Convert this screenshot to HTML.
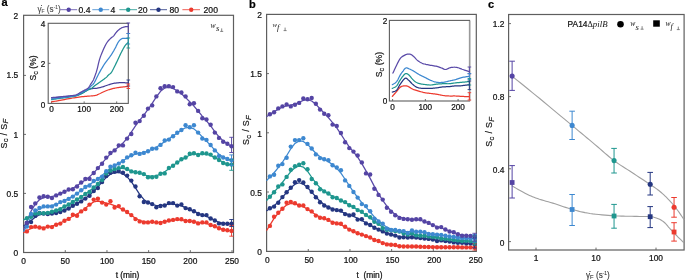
<!DOCTYPE html>
<html><head><meta charset="utf-8"><style>
html,body{margin:0;padding:0;background:#fff;width:685px;height:280px;overflow:hidden}
svg{display:block}
.w{will-change:transform;width:685px;height:280px}
</style></head><body><div class="w">
<svg width="685" height="280" viewBox="0 0 685 280" font-family='"Liberation Sans", sans-serif'>
<rect width="685" height="280" fill="#fff"/>
<text x="1.6" y="5.8" font-size="11" text-anchor="start" fill="#000" stroke="#000" stroke-width="0.22" font-weight="bold">a</text>
<text x="249.0" y="7.7" font-size="11" text-anchor="start" fill="#000" stroke="#000" stroke-width="0.22" font-weight="bold">b</text>
<text x="488.0" y="7.7" font-size="11" text-anchor="start" fill="#000" stroke="#000" stroke-width="0.22" font-weight="bold">c</text>
<rect x="23.6" y="15.3" width="209.9" height="237.2" fill="none" stroke="#5e5e5e" stroke-width="1.2"/>
<text x="18.2" y="256.0" font-size="8.4" text-anchor="end" fill="#111" stroke="#111" stroke-width="0.22" >0</text>
<path d="M23.6,193.4H26.0" stroke="#5e5e5e" stroke-width="0.9"/>
<text x="18.2" y="196.79999999999998" font-size="8.4" text-anchor="end" fill="#111" stroke="#111" stroke-width="0.22" >0.5</text>
<path d="M23.6,134.4H26.0" stroke="#5e5e5e" stroke-width="0.9"/>
<text x="18.2" y="137.6" font-size="8.4" text-anchor="end" fill="#111" stroke="#111" stroke-width="0.22" >1</text>
<path d="M23.6,75.4H26.0" stroke="#5e5e5e" stroke-width="0.9"/>
<text x="18.2" y="78.39999999999998" font-size="8.4" text-anchor="end" fill="#111" stroke="#111" stroke-width="0.22" >1.5</text>
<text x="18.2" y="19.19999999999998" font-size="8.4" text-anchor="end" fill="#111" stroke="#111" stroke-width="0.22" >2</text>
<text x="23.6" y="264.0" font-size="8.4" text-anchor="middle" fill="#111" stroke="#111" stroke-width="0.22" >0</text>
<path d="M65.28,252.5V250.1" stroke="#5e5e5e" stroke-width="0.9"/>
<text x="65.28" y="264.0" font-size="8.4" text-anchor="middle" fill="#111" stroke="#111" stroke-width="0.22" >50</text>
<path d="M106.96000000000001,252.5V250.1" stroke="#5e5e5e" stroke-width="0.9"/>
<text x="106.96000000000001" y="264.0" font-size="8.4" text-anchor="middle" fill="#111" stroke="#111" stroke-width="0.22" >100</text>
<path d="M148.64000000000001,252.5V250.1" stroke="#5e5e5e" stroke-width="0.9"/>
<text x="148.64000000000001" y="264.0" font-size="8.4" text-anchor="middle" fill="#111" stroke="#111" stroke-width="0.22" >150</text>
<path d="M190.32,252.5V250.1" stroke="#5e5e5e" stroke-width="0.9"/>
<text x="190.32" y="264.0" font-size="8.4" text-anchor="middle" fill="#111" stroke="#111" stroke-width="0.22" >200</text>
<path d="M232.0,252.5V250.1" stroke="#5e5e5e" stroke-width="0.9"/>
<text x="232.0" y="264.0" font-size="8.4" text-anchor="middle" fill="#111" stroke="#111" stroke-width="0.22" >250</text>
<text x="127.5" y="278.2" font-size="8.4" text-anchor="middle" fill="#111" stroke="#111" stroke-width="0.22" >t (min)</text>
<text transform="translate(6.6,133.6) rotate(-90)" font-size="8.8" text-anchor="middle" fill="#111" stroke="#111" stroke-width="0.2" letter-spacing="0.35">S<tspan font-size="7.6" dy="1.6">c</tspan><tspan dy="-1.6"> / S</tspan><tspan font-size="7.6" dy="1.6" font-style="italic">F</tspan></text>
<polyline points="23.80,232.56 26.90,230.82 31.08,228.47 35.25,227.51 39.43,227.44 43.60,227.43 47.78,227.01 51.96,226.16 56.13,224.82 60.31,223.01 64.48,220.82 68.66,218.44 72.84,216.22 77.01,214.11 81.19,211.54 85.36,208.29 89.54,204.71 93.72,201.87 97.89,201.02 102.07,201.90 106.24,203.04 110.42,204.10 114.60,205.61 118.77,207.43 122.95,209.62 127.12,212.31 131.30,215.34 135.48,218.28 139.65,220.51 143.83,221.72 148.00,222.13 152.18,222.22 156.36,222.32 160.53,222.21 164.71,221.63 168.88,220.77 173.06,220.03 177.24,219.68 181.41,219.91 185.59,220.53 189.76,221.24 193.94,221.94 198.12,222.49 202.29,222.84 206.47,223.50 210.64,224.80 214.82,226.43 219.00,228.00 223.17,229.30 227.35,230.24 231.52,230.94" fill="none" stroke="#ec3a2e" stroke-width="1.25" stroke-linejoin="round" stroke-linecap="round" opacity="1"/>
<polyline points="23.80,225.80 26.90,223.56 31.08,220.54 35.25,217.19 39.43,214.80 43.60,213.86 47.78,213.65 51.96,213.35 56.13,212.70 60.31,211.65 64.48,210.13 68.66,208.17 72.84,205.94 77.01,203.61 81.19,201.14 85.36,198.32 89.54,195.02 93.72,191.21 97.89,186.87 102.07,182.03 106.24,177.45 110.42,174.15 114.60,172.51 118.77,172.39 122.95,173.82 127.12,176.90 131.30,181.65 135.48,187.83 139.65,194.34 143.83,199.40 148.00,202.43 152.18,204.32 156.36,205.50 160.53,205.67 164.71,204.97 168.88,204.20 173.06,204.12 177.24,204.79 181.41,205.94 185.59,207.58 189.76,209.48 193.94,211.44 198.12,213.28 202.29,214.80 206.47,216.32 210.64,218.30 214.82,220.50 219.00,222.32 223.17,223.37 227.35,223.76 231.52,223.83" fill="none" stroke="#243681" stroke-width="1.25" stroke-linejoin="round" stroke-linecap="round" opacity="1"/>
<polyline points="23.80,219.76 26.90,218.32 31.08,216.38 35.25,214.68 39.43,213.62 43.60,213.06 47.78,212.49 51.96,211.60 56.13,210.33 60.31,208.67 64.48,206.62 68.66,204.34 72.84,201.95 77.01,199.45 81.19,196.85 85.36,194.12 89.54,191.09 93.72,187.58 97.89,183.62 102.07,179.26 106.24,174.96 110.42,171.61 114.60,169.53 118.77,168.48 122.95,168.40 127.12,169.35 131.30,170.77 135.48,172.05 139.65,173.23 143.83,174.65 148.00,175.99 152.18,176.46 156.36,175.75 160.53,174.11 164.71,171.74 168.88,168.75 173.06,165.59 177.24,162.58 181.41,159.75 185.59,157.19 189.76,155.21 193.94,154.25 198.12,154.01 202.29,153.94 206.47,154.27 210.64,155.50 214.82,157.57 219.00,160.00 223.17,162.23 227.35,163.85 231.52,164.81" fill="none" stroke="#1e968e" stroke-width="1.25" stroke-linejoin="round" stroke-linecap="round" opacity="1"/>
<polyline points="23.80,231.38 26.90,225.31 31.08,217.14 35.25,211.86 39.43,208.80 43.60,207.20 47.78,206.38 51.96,205.56 56.13,204.22 60.31,202.50 64.48,200.66 68.66,198.63 72.84,196.21 77.01,193.41 81.19,190.41 85.36,187.50 89.54,184.64 93.72,181.71 97.89,178.73 102.07,175.41 106.24,171.65 110.42,168.18 114.60,165.52 118.77,163.23 122.95,160.70 127.12,158.00 131.30,155.65 135.48,154.11 139.65,153.26 143.83,152.37 148.00,150.98 152.18,149.26 156.36,147.19 160.53,144.53 164.71,141.63 168.88,138.86 173.06,135.99 177.24,132.89 181.41,129.91 185.59,127.79 189.76,127.30 193.94,128.90 198.12,132.53 202.29,136.90 206.47,141.06 210.64,145.44 214.82,150.11 219.00,154.19 223.17,157.03 227.35,158.87 231.52,160.26" fill="none" stroke="#3d88d0" stroke-width="1.25" stroke-linejoin="round" stroke-linecap="round" opacity="1"/>
<polyline points="23.80,229.04 26.90,221.38 31.08,211.06 35.25,204.07 39.43,199.73 43.60,197.60 47.78,196.96 51.96,196.50 56.13,195.33 60.31,193.60 64.48,191.77 68.66,190.04 72.84,188.21 77.01,185.78 81.19,182.83 85.36,179.91 89.54,176.81 93.72,172.87 97.89,168.18 102.07,163.21 106.24,158.28 110.42,153.84 114.60,150.04 118.77,146.65 122.95,143.04 127.12,138.27 131.30,132.19 135.48,125.86 139.65,120.29 143.83,115.04 148.00,109.48 152.18,103.42 156.36,96.92 160.53,91.26 164.71,88.00 168.88,87.28 173.06,88.44 177.24,90.75 181.41,93.77 185.59,97.58 189.76,101.77 193.94,106.05 198.12,110.99 202.29,116.12 206.47,120.85 210.64,125.94 214.82,131.61 219.00,136.82 223.17,140.84 227.35,143.84 231.52,146.32" fill="none" stroke="#5a4aa8" stroke-width="1.25" stroke-linejoin="round" stroke-linecap="round" opacity="1"/>
<circle cx="26.90" cy="231.40" r="2.2" fill="#ec3a2e"/>
<circle cx="31.08" cy="227.10" r="2.2" fill="#ec3a2e"/>
<circle cx="35.25" cy="226.60" r="2.2" fill="#ec3a2e"/>
<circle cx="39.43" cy="227.50" r="2.2" fill="#ec3a2e"/>
<circle cx="43.60" cy="228.40" r="2.2" fill="#ec3a2e"/>
<circle cx="47.78" cy="226.60" r="2.2" fill="#ec3a2e"/>
<circle cx="51.96" cy="227.10" r="2.2" fill="#ec3a2e"/>
<circle cx="56.13" cy="224.80" r="2.2" fill="#ec3a2e"/>
<circle cx="60.31" cy="223.60" r="2.2" fill="#ec3a2e"/>
<circle cx="64.48" cy="220.70" r="2.2" fill="#ec3a2e"/>
<circle cx="68.66" cy="218.90" r="2.2" fill="#ec3a2e"/>
<circle cx="72.84" cy="214.70" r="2.2" fill="#ec3a2e"/>
<circle cx="77.01" cy="215.80" r="2.2" fill="#ec3a2e"/>
<circle cx="81.19" cy="211.40" r="2.2" fill="#ec3a2e"/>
<circle cx="85.36" cy="209.10" r="2.2" fill="#ec3a2e"/>
<circle cx="89.54" cy="204.60" r="2.2" fill="#ec3a2e"/>
<circle cx="93.72" cy="199.60" r="2.2" fill="#ec3a2e"/>
<circle cx="97.89" cy="198.70" r="2.2" fill="#ec3a2e"/>
<circle cx="102.07" cy="202.60" r="2.2" fill="#ec3a2e"/>
<circle cx="106.24" cy="204.60" r="2.2" fill="#ec3a2e"/>
<circle cx="110.42" cy="201.20" r="2.2" fill="#ec3a2e"/>
<circle cx="114.60" cy="207.50" r="2.2" fill="#ec3a2e"/>
<circle cx="118.77" cy="206.10" r="2.2" fill="#ec3a2e"/>
<circle cx="122.95" cy="209.50" r="2.2" fill="#ec3a2e"/>
<circle cx="127.12" cy="212.00" r="2.2" fill="#ec3a2e"/>
<circle cx="131.30" cy="215.10" r="2.2" fill="#ec3a2e"/>
<circle cx="135.48" cy="219.10" r="2.2" fill="#ec3a2e"/>
<circle cx="139.65" cy="221.40" r="2.2" fill="#ec3a2e"/>
<circle cx="143.83" cy="222.40" r="2.2" fill="#ec3a2e"/>
<circle cx="148.00" cy="222.40" r="2.2" fill="#ec3a2e"/>
<circle cx="152.18" cy="221.80" r="2.2" fill="#ec3a2e"/>
<circle cx="156.36" cy="222.40" r="2.2" fill="#ec3a2e"/>
<circle cx="160.53" cy="223.00" r="2.2" fill="#ec3a2e"/>
<circle cx="164.71" cy="221.80" r="2.2" fill="#ec3a2e"/>
<circle cx="168.88" cy="220.50" r="2.2" fill="#ec3a2e"/>
<circle cx="173.06" cy="219.90" r="2.2" fill="#ec3a2e"/>
<circle cx="177.24" cy="219.10" r="2.2" fill="#ec3a2e"/>
<circle cx="181.41" cy="219.30" r="2.2" fill="#ec3a2e"/>
<circle cx="185.59" cy="221.00" r="2.2" fill="#ec3a2e"/>
<circle cx="189.76" cy="221.00" r="2.2" fill="#ec3a2e"/>
<circle cx="193.94" cy="221.80" r="2.2" fill="#ec3a2e"/>
<circle cx="198.12" cy="223.40" r="2.2" fill="#ec3a2e"/>
<circle cx="202.29" cy="222.40" r="2.2" fill="#ec3a2e"/>
<circle cx="206.47" cy="222.40" r="2.2" fill="#ec3a2e"/>
<circle cx="210.64" cy="225.00" r="2.2" fill="#ec3a2e"/>
<circle cx="214.82" cy="226.30" r="2.2" fill="#ec3a2e"/>
<circle cx="219.00" cy="228.30" r="2.2" fill="#ec3a2e"/>
<circle cx="223.17" cy="229.70" r="2.2" fill="#ec3a2e"/>
<circle cx="227.35" cy="230.30" r="2.2" fill="#ec3a2e"/>
<circle cx="231.52" cy="230.90" r="2.2" fill="#ec3a2e"/>
<circle cx="26.90" cy="223.00" r="2.2" fill="#243681"/>
<circle cx="31.08" cy="222.10" r="2.2" fill="#243681"/>
<circle cx="35.25" cy="215.90" r="2.2" fill="#243681"/>
<circle cx="39.43" cy="212.90" r="2.2" fill="#243681"/>
<circle cx="43.60" cy="213.60" r="2.2" fill="#243681"/>
<circle cx="47.78" cy="214.10" r="2.2" fill="#243681"/>
<circle cx="51.96" cy="213.50" r="2.2" fill="#243681"/>
<circle cx="56.13" cy="213.00" r="2.2" fill="#243681"/>
<circle cx="60.31" cy="212.00" r="2.2" fill="#243681"/>
<circle cx="64.48" cy="210.50" r="2.2" fill="#243681"/>
<circle cx="68.66" cy="208.50" r="2.2" fill="#243681"/>
<circle cx="72.84" cy="205.70" r="2.2" fill="#243681"/>
<circle cx="77.01" cy="203.80" r="2.2" fill="#243681"/>
<circle cx="81.19" cy="201.40" r="2.2" fill="#243681"/>
<circle cx="85.36" cy="198.60" r="2.2" fill="#243681"/>
<circle cx="89.54" cy="195.70" r="2.2" fill="#243681"/>
<circle cx="93.72" cy="191.00" r="2.2" fill="#243681"/>
<circle cx="97.89" cy="188.00" r="2.2" fill="#243681"/>
<circle cx="102.07" cy="182.00" r="2.2" fill="#243681"/>
<circle cx="106.24" cy="176.00" r="2.2" fill="#243681"/>
<circle cx="110.42" cy="172.70" r="2.2" fill="#243681"/>
<circle cx="114.60" cy="171.80" r="2.2" fill="#243681"/>
<circle cx="118.77" cy="171.10" r="2.2" fill="#243681"/>
<circle cx="122.95" cy="172.70" r="2.2" fill="#243681"/>
<circle cx="127.12" cy="175.60" r="2.2" fill="#243681"/>
<circle cx="131.30" cy="180.60" r="2.2" fill="#243681"/>
<circle cx="135.48" cy="186.50" r="2.2" fill="#243681"/>
<circle cx="139.65" cy="196.30" r="2.2" fill="#243681"/>
<circle cx="143.83" cy="202.00" r="2.2" fill="#243681"/>
<circle cx="148.00" cy="202.50" r="2.2" fill="#243681"/>
<circle cx="152.18" cy="204.10" r="2.2" fill="#243681"/>
<circle cx="156.36" cy="207.20" r="2.2" fill="#243681"/>
<circle cx="160.53" cy="206.00" r="2.2" fill="#243681"/>
<circle cx="164.71" cy="205.50" r="2.2" fill="#243681"/>
<circle cx="168.88" cy="203.10" r="2.2" fill="#243681"/>
<circle cx="173.06" cy="203.10" r="2.2" fill="#243681"/>
<circle cx="177.24" cy="205.60" r="2.2" fill="#243681"/>
<circle cx="181.41" cy="204.40" r="2.2" fill="#243681"/>
<circle cx="185.59" cy="208.10" r="2.2" fill="#243681"/>
<circle cx="189.76" cy="209.30" r="2.2" fill="#243681"/>
<circle cx="193.94" cy="211.20" r="2.2" fill="#243681"/>
<circle cx="198.12" cy="214.00" r="2.2" fill="#243681"/>
<circle cx="202.29" cy="215.10" r="2.2" fill="#243681"/>
<circle cx="206.47" cy="215.10" r="2.2" fill="#243681"/>
<circle cx="210.64" cy="218.50" r="2.2" fill="#243681"/>
<circle cx="214.82" cy="220.50" r="2.2" fill="#243681"/>
<circle cx="219.00" cy="223.40" r="2.2" fill="#243681"/>
<circle cx="223.17" cy="223.80" r="2.2" fill="#243681"/>
<circle cx="227.35" cy="223.80" r="2.2" fill="#243681"/>
<circle cx="231.52" cy="223.80" r="2.2" fill="#243681"/>
<circle cx="26.90" cy="218.20" r="2.2" fill="#1e968e"/>
<circle cx="31.08" cy="216.80" r="2.2" fill="#1e968e"/>
<circle cx="35.25" cy="213.60" r="2.2" fill="#1e968e"/>
<circle cx="39.43" cy="213.20" r="2.2" fill="#1e968e"/>
<circle cx="43.60" cy="213.20" r="2.2" fill="#1e968e"/>
<circle cx="47.78" cy="212.90" r="2.2" fill="#1e968e"/>
<circle cx="51.96" cy="211.80" r="2.2" fill="#1e968e"/>
<circle cx="56.13" cy="210.50" r="2.2" fill="#1e968e"/>
<circle cx="60.31" cy="209.30" r="2.2" fill="#1e968e"/>
<circle cx="64.48" cy="206.50" r="2.2" fill="#1e968e"/>
<circle cx="68.66" cy="204.50" r="2.2" fill="#1e968e"/>
<circle cx="72.84" cy="202.00" r="2.2" fill="#1e968e"/>
<circle cx="77.01" cy="199.50" r="2.2" fill="#1e968e"/>
<circle cx="81.19" cy="197.00" r="2.2" fill="#1e968e"/>
<circle cx="85.36" cy="194.00" r="2.2" fill="#1e968e"/>
<circle cx="89.54" cy="192.00" r="2.2" fill="#1e968e"/>
<circle cx="93.72" cy="187.50" r="2.2" fill="#1e968e"/>
<circle cx="97.89" cy="184.00" r="2.2" fill="#1e968e"/>
<circle cx="102.07" cy="180.00" r="2.2" fill="#1e968e"/>
<circle cx="106.24" cy="173.50" r="2.2" fill="#1e968e"/>
<circle cx="110.42" cy="170.50" r="2.2" fill="#1e968e"/>
<circle cx="114.60" cy="169.00" r="2.2" fill="#1e968e"/>
<circle cx="118.77" cy="168.10" r="2.2" fill="#1e968e"/>
<circle cx="122.95" cy="167.00" r="2.2" fill="#1e968e"/>
<circle cx="127.12" cy="169.00" r="2.2" fill="#1e968e"/>
<circle cx="131.30" cy="171.40" r="2.2" fill="#1e968e"/>
<circle cx="135.48" cy="172.20" r="2.2" fill="#1e968e"/>
<circle cx="139.65" cy="172.80" r="2.2" fill="#1e968e"/>
<circle cx="143.83" cy="174.10" r="2.2" fill="#1e968e"/>
<circle cx="148.00" cy="177.30" r="2.2" fill="#1e968e"/>
<circle cx="152.18" cy="177.30" r="2.2" fill="#1e968e"/>
<circle cx="156.36" cy="176.70" r="2.2" fill="#1e968e"/>
<circle cx="160.53" cy="173.80" r="2.2" fill="#1e968e"/>
<circle cx="164.71" cy="173.40" r="2.2" fill="#1e968e"/>
<circle cx="168.88" cy="168.00" r="2.2" fill="#1e968e"/>
<circle cx="173.06" cy="165.70" r="2.2" fill="#1e968e"/>
<circle cx="177.24" cy="162.50" r="2.2" fill="#1e968e"/>
<circle cx="181.41" cy="159.30" r="2.2" fill="#1e968e"/>
<circle cx="185.59" cy="157.50" r="2.2" fill="#1e968e"/>
<circle cx="189.76" cy="153.70" r="2.2" fill="#1e968e"/>
<circle cx="193.94" cy="153.30" r="2.2" fill="#1e968e"/>
<circle cx="198.12" cy="155.00" r="2.2" fill="#1e968e"/>
<circle cx="202.29" cy="153.30" r="2.2" fill="#1e968e"/>
<circle cx="206.47" cy="153.50" r="2.2" fill="#1e968e"/>
<circle cx="210.64" cy="154.60" r="2.2" fill="#1e968e"/>
<circle cx="214.82" cy="157.50" r="2.2" fill="#1e968e"/>
<circle cx="219.00" cy="160.00" r="2.2" fill="#1e968e"/>
<circle cx="223.17" cy="163.00" r="2.2" fill="#1e968e"/>
<circle cx="227.35" cy="164.30" r="2.2" fill="#1e968e"/>
<circle cx="231.52" cy="164.60" r="2.2" fill="#1e968e"/>
<circle cx="26.90" cy="226.60" r="2.2" fill="#3d88d0"/>
<circle cx="31.08" cy="214.00" r="2.2" fill="#3d88d0"/>
<circle cx="35.25" cy="210.50" r="2.2" fill="#3d88d0"/>
<circle cx="39.43" cy="207.90" r="2.2" fill="#3d88d0"/>
<circle cx="43.60" cy="206.40" r="2.2" fill="#3d88d0"/>
<circle cx="47.78" cy="206.40" r="2.2" fill="#3d88d0"/>
<circle cx="51.96" cy="206.40" r="2.2" fill="#3d88d0"/>
<circle cx="56.13" cy="204.60" r="2.2" fill="#3d88d0"/>
<circle cx="60.31" cy="202.10" r="2.2" fill="#3d88d0"/>
<circle cx="64.48" cy="201.00" r="2.2" fill="#3d88d0"/>
<circle cx="68.66" cy="198.90" r="2.2" fill="#3d88d0"/>
<circle cx="72.84" cy="196.60" r="2.2" fill="#3d88d0"/>
<circle cx="77.01" cy="193.60" r="2.2" fill="#3d88d0"/>
<circle cx="81.19" cy="190.30" r="2.2" fill="#3d88d0"/>
<circle cx="85.36" cy="187.00" r="2.2" fill="#3d88d0"/>
<circle cx="89.54" cy="185.50" r="2.2" fill="#3d88d0"/>
<circle cx="93.72" cy="181.00" r="2.2" fill="#3d88d0"/>
<circle cx="97.89" cy="179.00" r="2.2" fill="#3d88d0"/>
<circle cx="102.07" cy="176.60" r="2.2" fill="#3d88d0"/>
<circle cx="106.24" cy="171.20" r="2.2" fill="#3d88d0"/>
<circle cx="110.42" cy="166.80" r="2.2" fill="#3d88d0"/>
<circle cx="114.60" cy="165.50" r="2.2" fill="#3d88d0"/>
<circle cx="118.77" cy="163.60" r="2.2" fill="#3d88d0"/>
<circle cx="122.95" cy="161.20" r="2.2" fill="#3d88d0"/>
<circle cx="127.12" cy="157.40" r="2.2" fill="#3d88d0"/>
<circle cx="131.30" cy="155.30" r="2.2" fill="#3d88d0"/>
<circle cx="135.48" cy="152.70" r="2.2" fill="#3d88d0"/>
<circle cx="139.65" cy="153.90" r="2.2" fill="#3d88d0"/>
<circle cx="143.83" cy="152.90" r="2.2" fill="#3d88d0"/>
<circle cx="148.00" cy="151.30" r="2.2" fill="#3d88d0"/>
<circle cx="152.18" cy="148.80" r="2.2" fill="#3d88d0"/>
<circle cx="156.36" cy="148.40" r="2.2" fill="#3d88d0"/>
<circle cx="160.53" cy="144.90" r="2.2" fill="#3d88d0"/>
<circle cx="164.71" cy="140.50" r="2.2" fill="#3d88d0"/>
<circle cx="168.88" cy="139.60" r="2.2" fill="#3d88d0"/>
<circle cx="173.06" cy="136.20" r="2.2" fill="#3d88d0"/>
<circle cx="177.24" cy="132.70" r="2.2" fill="#3d88d0"/>
<circle cx="181.41" cy="130.00" r="2.2" fill="#3d88d0"/>
<circle cx="185.59" cy="125.30" r="2.2" fill="#3d88d0"/>
<circle cx="189.76" cy="127.30" r="2.2" fill="#3d88d0"/>
<circle cx="193.94" cy="125.30" r="2.2" fill="#3d88d0"/>
<circle cx="198.12" cy="132.60" r="2.2" fill="#3d88d0"/>
<circle cx="202.29" cy="138.50" r="2.2" fill="#3d88d0"/>
<circle cx="206.47" cy="139.90" r="2.2" fill="#3d88d0"/>
<circle cx="210.64" cy="145.00" r="2.2" fill="#3d88d0"/>
<circle cx="214.82" cy="150.40" r="2.2" fill="#3d88d0"/>
<circle cx="219.00" cy="156.00" r="2.2" fill="#3d88d0"/>
<circle cx="223.17" cy="157.50" r="2.2" fill="#3d88d0"/>
<circle cx="227.35" cy="159.00" r="2.2" fill="#3d88d0"/>
<circle cx="231.52" cy="160.20" r="2.2" fill="#3d88d0"/>
<circle cx="26.90" cy="223.00" r="2.2" fill="#5444a4"/>
<circle cx="31.08" cy="207.00" r="2.2" fill="#5444a4"/>
<circle cx="35.25" cy="203.40" r="2.2" fill="#5444a4"/>
<circle cx="39.43" cy="197.50" r="2.2" fill="#5444a4"/>
<circle cx="43.60" cy="196.30" r="2.2" fill="#5444a4"/>
<circle cx="47.78" cy="196.80" r="2.2" fill="#5444a4"/>
<circle cx="51.96" cy="198.00" r="2.2" fill="#5444a4"/>
<circle cx="56.13" cy="195.40" r="2.2" fill="#5444a4"/>
<circle cx="60.31" cy="193.60" r="2.2" fill="#5444a4"/>
<circle cx="64.48" cy="191.80" r="2.2" fill="#5444a4"/>
<circle cx="68.66" cy="189.50" r="2.2" fill="#5444a4"/>
<circle cx="72.84" cy="189.20" r="2.2" fill="#5444a4"/>
<circle cx="77.01" cy="186.50" r="2.2" fill="#5444a4"/>
<circle cx="81.19" cy="182.50" r="2.2" fill="#5444a4"/>
<circle cx="85.36" cy="179.00" r="2.2" fill="#5444a4"/>
<circle cx="89.54" cy="178.90" r="2.2" fill="#5444a4"/>
<circle cx="93.72" cy="173.00" r="2.2" fill="#5444a4"/>
<circle cx="97.89" cy="168.10" r="2.2" fill="#5444a4"/>
<circle cx="102.07" cy="163.70" r="2.2" fill="#5444a4"/>
<circle cx="106.24" cy="157.60" r="2.2" fill="#5444a4"/>
<circle cx="110.42" cy="153.00" r="2.2" fill="#5444a4"/>
<circle cx="114.60" cy="150.40" r="2.2" fill="#5444a4"/>
<circle cx="118.77" cy="145.40" r="2.2" fill="#5444a4"/>
<circle cx="122.95" cy="145.40" r="2.2" fill="#5444a4"/>
<circle cx="127.12" cy="138.60" r="2.2" fill="#5444a4"/>
<circle cx="131.30" cy="134.00" r="2.2" fill="#5444a4"/>
<circle cx="135.48" cy="122.70" r="2.2" fill="#5444a4"/>
<circle cx="139.65" cy="121.10" r="2.2" fill="#5444a4"/>
<circle cx="143.83" cy="115.80" r="2.2" fill="#5444a4"/>
<circle cx="148.00" cy="108.60" r="2.2" fill="#5444a4"/>
<circle cx="152.18" cy="105.40" r="2.2" fill="#5444a4"/>
<circle cx="156.36" cy="96.40" r="2.2" fill="#5444a4"/>
<circle cx="160.53" cy="88.20" r="2.2" fill="#5444a4"/>
<circle cx="164.71" cy="86.30" r="2.2" fill="#5444a4"/>
<circle cx="168.88" cy="86.10" r="2.2" fill="#5444a4"/>
<circle cx="173.06" cy="87.10" r="2.2" fill="#5444a4"/>
<circle cx="177.24" cy="91.40" r="2.2" fill="#5444a4"/>
<circle cx="181.41" cy="92.50" r="2.2" fill="#5444a4"/>
<circle cx="185.59" cy="96.40" r="2.2" fill="#5444a4"/>
<circle cx="189.76" cy="104.30" r="2.2" fill="#5444a4"/>
<circle cx="193.94" cy="103.20" r="2.2" fill="#5444a4"/>
<circle cx="198.12" cy="110.90" r="2.2" fill="#5444a4"/>
<circle cx="202.29" cy="118.30" r="2.2" fill="#5444a4"/>
<circle cx="206.47" cy="119.50" r="2.2" fill="#5444a4"/>
<circle cx="210.64" cy="124.70" r="2.2" fill="#5444a4"/>
<circle cx="214.82" cy="132.60" r="2.2" fill="#5444a4"/>
<circle cx="219.00" cy="137.90" r="2.2" fill="#5444a4"/>
<circle cx="223.17" cy="141.80" r="2.2" fill="#5444a4"/>
<circle cx="227.35" cy="143.80" r="2.2" fill="#5444a4"/>
<circle cx="231.52" cy="146.30" r="2.2" fill="#5444a4"/>
<path d="M231.5,225.4V236.2M229.3,225.4H233.7M229.3,236.2H233.7" stroke="#ec3a2e" stroke-width="0.9" fill="none"/>
<path d="M231.5,219.5V226.5M229.3,219.5H233.7M229.3,226.5H233.7" stroke="#243681" stroke-width="0.9" fill="none"/>
<path d="M231.5,159.7V170.3M229.3,159.7H233.7M229.3,170.3H233.7" stroke="#1e968e" stroke-width="0.9" fill="none"/>
<path d="M231.5,154.9V165.5M229.3,154.9H233.7M229.3,165.5H233.7" stroke="#3d88d0" stroke-width="0.9" fill="none"/>
<path d="M231.5,137.3V152.5M229.3,137.3H233.7M229.3,152.5H233.7" stroke="#5444a4" stroke-width="0.9" fill="none"/>
<text x="210.6" y="27.6" font-family='"Liberation Serif", serif' font-style="italic" font-size="7.6" fill="#222">w<tspan font-size="8.8" dy="3.7" dx="0.2">s</tspan></text>
<path d="M220.2,31.4H223.2M221.7,31.4V28.4" stroke="#666" stroke-width="0.8" fill="none"/>
<rect x="48.2" y="23.3" width="80.1" height="80.1" fill="#fff"/>
<rect x="48.2" y="23.3" width="80.10000000000001" height="80.10000000000001" fill="none" stroke="#5e5e5e" stroke-width="1.1"/>
<text x="45.4" y="107.5" font-size="8.2" text-anchor="end" fill="#111" stroke="#111" stroke-width="0.22" >0</text>
<path d="M48.2,63.34H50.400000000000006" stroke="#5e5e5e" stroke-width="0.9"/>
<text x="45.4" y="67.44" font-size="8.2" text-anchor="end" fill="#111" stroke="#111" stroke-width="0.22" >2</text>
<text x="45.4" y="27.380000000000003" font-size="8.2" text-anchor="end" fill="#111" stroke="#111" stroke-width="0.22" >4</text>
<path d="M51.6,103.4V101.4" stroke="#5e5e5e" stroke-width="0.9"/>
<text x="51.6" y="112.4" font-size="8.2" text-anchor="middle" fill="#111" stroke="#111" stroke-width="0.22" >0</text>
<path d="M84.15,103.4V101.4" stroke="#5e5e5e" stroke-width="0.9"/>
<text x="84.15" y="112.4" font-size="8.2" text-anchor="middle" fill="#111" stroke="#111" stroke-width="0.22" >100</text>
<path d="M116.70000000000002,103.4V101.4" stroke="#5e5e5e" stroke-width="0.9"/>
<text x="116.70000000000002" y="112.4" font-size="8.2" text-anchor="middle" fill="#111" stroke="#111" stroke-width="0.22" >200</text>
<text transform="translate(35.8,67.9) rotate(-90)" font-size="8.6" text-anchor="middle" fill="#111" stroke="#111" stroke-width="0.2">S<tspan font-size="7.4" dy="1.8">c</tspan><tspan dy="-1.8"> (%)</tspan></text>
<polyline points="51.60,101.80 52.22,101.70 53.01,101.57 53.95,101.42 55.02,101.25 56.18,101.06 57.41,100.85 58.70,100.63 60.00,100.40 61.37,100.14 62.84,99.85 64.39,99.54 65.99,99.21 67.63,98.89 69.28,98.57 70.91,98.27 72.50,98.00 74.08,97.76 75.69,97.53 77.31,97.31 78.93,97.10 80.52,96.91 82.08,96.72 83.58,96.56 85.00,96.40 86.37,96.27 87.73,96.16 89.04,96.08 90.31,96.00 91.51,95.92 92.63,95.84 93.67,95.73 94.60,95.60 95.40,95.44 96.07,95.27 96.64,95.08 97.14,94.87 97.59,94.66 98.04,94.45 98.50,94.22 99.00,94.00 99.53,93.77 100.05,93.53 100.56,93.28 101.08,93.03 101.59,92.77 102.11,92.51 102.65,92.25 103.20,92.00 103.76,91.75 104.33,91.49 104.89,91.24 105.47,90.98 106.07,90.73 106.69,90.48 107.33,90.24 108.00,90.00 108.71,89.77 109.46,89.54 110.24,89.31 111.04,89.09 111.84,88.87 112.65,88.67 113.43,88.48 114.20,88.30 114.93,88.14 115.62,88.00 116.29,87.87 116.97,87.75 117.66,87.64 118.38,87.53 119.16,87.42 120.00,87.30 120.97,87.18 122.09,87.05 123.29,86.92 124.51,86.79 125.69,86.67 126.75,86.56 127.64,86.47 128.30,86.40" fill="none" stroke="#ec3a2e" stroke-width="1.25" stroke-linejoin="round" stroke-linecap="round" opacity="1"/>
<polyline points="51.60,97.90 52.24,97.85 53.07,97.78 54.06,97.70 55.18,97.61 56.36,97.51 57.59,97.41 58.82,97.30 60.00,97.20 61.21,97.09 62.51,96.98 63.87,96.86 65.24,96.73 66.58,96.61 67.84,96.49 69.00,96.39 70.00,96.30 70.83,96.24 71.51,96.20 72.09,96.18 72.59,96.16 73.05,96.14 73.52,96.09 74.02,96.02 74.60,95.90 75.24,95.74 75.90,95.54 76.58,95.32 77.27,95.08 77.97,94.82 78.66,94.55 79.34,94.28 80.00,94.00 80.66,93.71 81.32,93.41 81.99,93.08 82.65,92.76 83.29,92.43 83.90,92.10 84.47,91.79 85.00,91.50 85.46,91.22 85.87,90.94 86.23,90.67 86.56,90.40 86.89,90.15 87.23,89.91 87.59,89.69 88.00,89.50 88.45,89.33 88.91,89.19 89.38,89.06 89.88,88.95 90.38,88.85 90.91,88.76 91.45,88.68 92.00,88.60 92.58,88.53 93.18,88.48 93.80,88.45 94.44,88.42 95.08,88.39 95.73,88.34 96.37,88.28 97.00,88.20 97.62,88.09 98.23,87.97 98.83,87.84 99.44,87.70 100.05,87.54 100.68,87.38 101.33,87.19 102.00,87.00 102.71,86.78 103.45,86.54 104.22,86.29 105.00,86.02 105.78,85.75 106.55,85.48 107.29,85.23 108.00,85.00 108.67,84.78 109.30,84.57 109.90,84.37 110.50,84.17 111.10,83.99 111.70,83.81 112.33,83.65 113.00,83.50 113.71,83.36 114.45,83.23 115.22,83.11 116.00,83.01 116.78,82.91 117.55,82.83 118.29,82.76 119.00,82.70 119.68,82.66 120.34,82.64 120.98,82.63 121.61,82.63 122.22,82.64 122.82,82.66 123.42,82.68 124.00,82.70 124.60,82.73 125.22,82.76 125.85,82.80 126.46,82.85 127.03,82.90 127.54,82.94 127.97,82.97 128.30,83.00" fill="none" stroke="#443d96" stroke-width="1.25" stroke-linejoin="round" stroke-linecap="round" opacity="1"/>
<polyline points="51.60,99.60 52.24,99.51 53.07,99.39 54.06,99.25 55.18,99.09 56.36,98.92 57.59,98.74 58.82,98.57 60.00,98.40 61.20,98.23 62.48,98.06 63.81,97.88 65.15,97.69 66.47,97.51 67.74,97.33 68.93,97.16 70.00,97.00 70.94,96.86 71.78,96.73 72.54,96.62 73.25,96.51 73.93,96.39 74.59,96.26 75.28,96.10 76.00,95.90 76.76,95.67 77.52,95.41 78.29,95.12 79.06,94.82 79.82,94.50 80.57,94.17 81.30,93.84 82.00,93.50 82.68,93.15 83.33,92.77 83.97,92.38 84.60,91.99 85.21,91.59 85.82,91.21 86.41,90.84 87.00,90.50 87.58,90.19 88.16,89.91 88.73,89.64 89.29,89.39 89.83,89.13 90.37,88.87 90.89,88.60 91.40,88.30 91.89,87.98 92.35,87.64 92.80,87.29 93.23,86.93 93.66,86.57 94.10,86.21 94.54,85.85 95.00,85.50 95.46,85.17 95.89,84.86 96.33,84.57 96.77,84.27 97.23,83.95 97.74,83.61 98.29,83.23 98.90,82.80 99.61,82.30 100.42,81.73 101.30,81.11 102.20,80.47 103.10,79.83 103.95,79.21 104.73,78.62 105.40,78.10 105.95,77.64 106.41,77.22 106.80,76.83 107.14,76.47 107.46,76.11 107.78,75.76 108.12,75.39 108.50,75.00 108.90,74.64 109.28,74.35 109.66,74.09 110.04,73.81 110.45,73.46 110.89,73.01 111.37,72.40 111.90,71.60 112.51,70.55 113.19,69.26 113.93,67.80 114.69,66.25 115.46,64.66 116.20,63.12 116.89,61.67 117.50,60.40 118.04,59.28 118.53,58.24 118.99,57.27 119.41,56.35 119.82,55.48 120.21,54.63 120.60,53.81 121.00,53.00 121.41,52.20 121.81,51.41 122.21,50.65 122.59,49.92 122.97,49.22 123.33,48.57 123.68,47.96 124.00,47.40 124.30,46.90 124.56,46.46 124.81,46.08 125.04,45.72 125.27,45.40 125.50,45.10 125.74,44.80 126.00,44.50 126.29,44.19 126.61,43.89 126.94,43.60 127.28,43.32 127.59,43.06 127.88,42.84 128.12,42.65 128.30,42.50" fill="none" stroke="#1e968e" stroke-width="1.25" stroke-linejoin="round" stroke-linecap="round" opacity="1"/>
<polyline points="51.60,99.00 52.24,98.91 53.07,98.78 54.06,98.64 55.18,98.48 56.36,98.30 57.59,98.13 58.82,97.96 60.00,97.80 61.20,97.65 62.48,97.50 63.81,97.35 65.15,97.20 66.47,97.05 67.74,96.90 68.93,96.75 70.00,96.60 70.94,96.46 71.78,96.34 72.54,96.22 73.25,96.11 73.93,95.97 74.59,95.82 75.28,95.63 76.00,95.40 76.75,95.12 77.50,94.81 78.25,94.46 79.00,94.09 79.75,93.71 80.50,93.31 81.25,92.90 82.00,92.50 82.77,92.09 83.57,91.66 84.38,91.21 85.19,90.76 85.97,90.30 86.71,89.85 87.39,89.42 88.00,89.00 88.52,88.60 88.96,88.22 89.34,87.85 89.67,87.48 89.99,87.12 90.31,86.75 90.64,86.38 91.00,86.00 91.38,85.65 91.75,85.36 92.12,85.08 92.49,84.79 92.88,84.46 93.29,84.03 93.73,83.49 94.20,82.80 94.71,81.93 95.25,80.90 95.82,79.76 96.41,78.53 97.01,77.26 97.63,75.97 98.26,74.70 98.90,73.50 99.55,72.33 100.22,71.13 100.90,69.93 101.59,68.74 102.30,67.56 103.00,66.40 103.70,65.28 104.40,64.20 105.11,63.16 105.85,62.13 106.61,61.13 107.36,60.16 108.09,59.23 108.78,58.34 109.42,57.49 110.00,56.70 110.50,55.98 110.94,55.33 111.33,54.73 111.69,54.17 112.02,53.63 112.34,53.10 112.66,52.56 113.00,52.00 113.35,51.42 113.69,50.83 114.04,50.24 114.37,49.65 114.69,49.07 115.01,48.50 115.31,47.94 115.60,47.40 115.87,46.87 116.12,46.35 116.36,45.85 116.59,45.35 116.81,44.87 117.03,44.40 117.26,43.94 117.50,43.50 117.74,43.07 117.98,42.66 118.22,42.26 118.46,41.88 118.71,41.50 118.96,41.15 119.23,40.82 119.50,40.50 119.79,40.20 120.08,39.91 120.38,39.64 120.69,39.38 121.00,39.15 121.33,38.94 121.66,38.75 122.00,38.60 122.35,38.48 122.71,38.41 123.08,38.36 123.45,38.33 123.83,38.32 124.22,38.32 124.61,38.31 125.00,38.30 125.42,38.29 125.88,38.28 126.36,38.28 126.84,38.28 127.29,38.29 127.70,38.29 128.04,38.30 128.30,38.30" fill="none" stroke="#3d88d0" stroke-width="1.25" stroke-linejoin="round" stroke-linecap="round" opacity="1"/>
<polyline points="51.60,97.60 52.24,97.54 53.07,97.46 54.06,97.37 55.18,97.26 56.36,97.15 57.59,97.03 58.82,96.92 60.00,96.80 61.20,96.68 62.48,96.56 63.81,96.44 65.15,96.31 66.47,96.18 67.74,96.05 68.93,95.93 70.00,95.80 70.94,95.69 71.78,95.60 72.54,95.53 73.25,95.44 73.93,95.34 74.59,95.21 75.28,95.04 76.00,94.80 76.75,94.50 77.51,94.13 78.26,93.73 79.02,93.29 79.77,92.83 80.52,92.37 81.26,91.92 82.00,91.50 82.75,91.10 83.51,90.71 84.29,90.32 85.05,89.93 85.79,89.54 86.49,89.14 87.13,88.73 87.70,88.30 88.19,87.86 88.60,87.41 88.96,86.95 89.28,86.48 89.58,86.00 89.87,85.51 90.17,85.01 90.50,84.50 90.86,83.97 91.22,83.44 91.59,82.89 91.95,82.33 92.31,81.75 92.66,81.18 92.99,80.59 93.30,80.00 93.59,79.40 93.86,78.79 94.12,78.17 94.37,77.55 94.61,76.92 94.84,76.28 95.07,75.64 95.30,75.00 95.52,74.39 95.72,73.83 95.91,73.29 96.10,72.73 96.30,72.13 96.50,71.44 96.74,70.64 97.00,69.70 97.29,68.58 97.60,67.29 97.93,65.88 98.27,64.40 98.64,62.89 99.01,61.38 99.40,59.94 99.80,58.60 100.22,57.33 100.67,56.09 101.13,54.87 101.61,53.68 102.09,52.53 102.57,51.41 103.04,50.33 103.50,49.30 103.94,48.31 104.38,47.37 104.81,46.47 105.23,45.60 105.66,44.77 106.09,43.98 106.54,43.22 107.00,42.50 107.49,41.81 108.00,41.15 108.53,40.53 109.06,39.95 109.59,39.40 110.09,38.90 110.57,38.43 111.00,38.00 111.38,37.65 111.71,37.38 112.00,37.18 112.28,37.00 112.56,36.82 112.84,36.62 113.15,36.35 113.50,36.00 113.89,35.55 114.29,35.02 114.72,34.44 115.16,33.83 115.61,33.21 116.07,32.60 116.53,32.02 117.00,31.50 117.48,31.02 117.96,30.55 118.46,30.09 118.97,29.66 119.48,29.25 119.99,28.86 120.50,28.51 121.00,28.20 121.50,27.93 122.02,27.69 122.53,27.49 123.04,27.31 123.55,27.16 124.05,27.03 124.53,26.91 125.00,26.80 125.47,26.71 125.95,26.64 126.43,26.59 126.90,26.56 127.33,26.54 127.72,26.53 128.05,26.52 128.30,26.50" fill="none" stroke="#5a4aa8" stroke-width="1.25" stroke-linejoin="round" stroke-linecap="round" opacity="1"/>
<path d="M128.3,23V33.5M126.50000000000001,23H130.10000000000002M126.50000000000001,33.5H130.10000000000002" stroke="#5444a4" stroke-width="0.9" fill="none"/>
<path d="M128.3,33.5V44M126.50000000000001,33.5H130.10000000000002M126.50000000000001,44H130.10000000000002" stroke="#3d88d0" stroke-width="0.9" fill="none"/>
<path d="M128.3,38V48M126.50000000000001,38H130.10000000000002M126.50000000000001,48H130.10000000000002" stroke="#1e968e" stroke-width="0.9" fill="none"/>
<path d="M128.3,80V86M126.50000000000001,80H130.10000000000002M126.50000000000001,86H130.10000000000002" stroke="#243681" stroke-width="0.9" fill="none"/>
<path d="M128.3,84V88.5M126.50000000000001,84H130.10000000000002M126.50000000000001,88.5H130.10000000000002" stroke="#ec3a2e" stroke-width="0.9" fill="none"/>
<text x="37.4" y="11.6" font-size="8.2" text-anchor="start" fill="#444" stroke="#444" stroke-width="0.08" ><tspan fill="#444">γ̇</tspan><tspan font-size="5" fill="#555" dy="1">F</tspan><tspan dy="-1" fill="#444"> (s</tspan><tspan font-size="4.8" dy="-3.1" fill="#444">-1</tspan><tspan dy="3.1" fill="#444">)</tspan></text>
<path d="M60.2,9.7H77.2" stroke="#5a4aa8" stroke-width="0.9" opacity="0.9"/>
<circle cx="68.70" cy="9.7" r="2.2" fill="#5444a4"/>
<text x="78.6" y="12.7" font-size="8.6" text-anchor="start" fill="#111" stroke="#111" stroke-width="0.22" >0.4</text>
<path d="M92.3,9.7H109.2" stroke="#3d88d0" stroke-width="0.9" opacity="0.9"/>
<circle cx="100.75" cy="9.7" r="2.2" fill="#3d88d0"/>
<text x="110.6" y="12.7" font-size="8.6" text-anchor="start" fill="#111" stroke="#111" stroke-width="0.22" >4</text>
<path d="M119.4,9.7H137" stroke="#1e968e" stroke-width="0.9" opacity="0.9"/>
<circle cx="128.20" cy="9.7" r="2.2" fill="#1e968e"/>
<text x="138" y="12.7" font-size="8.6" text-anchor="start" fill="#111" stroke="#111" stroke-width="0.22" >20</text>
<path d="M150,9.7H167" stroke="#243681" stroke-width="0.9" opacity="0.9"/>
<circle cx="158.50" cy="9.7" r="2.2" fill="#243681"/>
<text x="169.6" y="12.7" font-size="8.6" text-anchor="start" fill="#111" stroke="#111" stroke-width="0.22" >80</text>
<path d="M182.4,9.7H200" stroke="#ec3a2e" stroke-width="0.9" opacity="0.9"/>
<circle cx="191.20" cy="9.7" r="2.2" fill="#ec3a2e"/>
<text x="203.6" y="12.7" font-size="8.6" text-anchor="start" fill="#111" stroke="#111" stroke-width="0.22" >200</text>
<rect x="266.6" y="14.4" width="209.7" height="237.0" fill="none" stroke="#5e5e5e" stroke-width="1.2"/>
<text x="261.8" y="255.0" font-size="8.4" text-anchor="end" fill="#111" stroke="#111" stroke-width="0.22" >0</text>
<path d="M266.6,192.0H269.0" stroke="#5e5e5e" stroke-width="0.9"/>
<text x="261.8" y="195.82500000000002" font-size="8.4" text-anchor="end" fill="#111" stroke="#111" stroke-width="0.22" >0.5</text>
<path d="M266.6,132.79999999999998H269.0" stroke="#5e5e5e" stroke-width="0.9"/>
<text x="261.8" y="136.65" font-size="8.4" text-anchor="end" fill="#111" stroke="#111" stroke-width="0.22" >1</text>
<path d="M266.6,73.59999999999997H269.0" stroke="#5e5e5e" stroke-width="0.9"/>
<text x="261.8" y="77.47500000000002" font-size="8.4" text-anchor="end" fill="#111" stroke="#111" stroke-width="0.22" >1.5</text>
<text x="261.8" y="18.300000000000004" font-size="8.4" text-anchor="end" fill="#111" stroke="#111" stroke-width="0.22" >2</text>
<text x="267.40000000000003" y="263.2" font-size="8.4" text-anchor="middle" fill="#111" stroke="#111" stroke-width="0.22" >0</text>
<path d="M308.28000000000003,251.4V249.0" stroke="#5e5e5e" stroke-width="0.9"/>
<text x="309.08000000000004" y="263.2" font-size="8.4" text-anchor="middle" fill="#111" stroke="#111" stroke-width="0.22" >50</text>
<path d="M349.96000000000004,251.4V249.0" stroke="#5e5e5e" stroke-width="0.9"/>
<text x="350.76000000000005" y="263.2" font-size="8.4" text-anchor="middle" fill="#111" stroke="#111" stroke-width="0.22" >100</text>
<path d="M391.64000000000004,251.4V249.0" stroke="#5e5e5e" stroke-width="0.9"/>
<text x="392.44000000000005" y="263.2" font-size="8.4" text-anchor="middle" fill="#111" stroke="#111" stroke-width="0.22" >150</text>
<path d="M433.32000000000005,251.4V249.0" stroke="#5e5e5e" stroke-width="0.9"/>
<text x="434.12000000000006" y="263.2" font-size="8.4" text-anchor="middle" fill="#111" stroke="#111" stroke-width="0.22" >200</text>
<path d="M475.0,251.4V249.0" stroke="#5e5e5e" stroke-width="0.9"/>
<text x="475.8" y="263.2" font-size="8.4" text-anchor="middle" fill="#111" stroke="#111" stroke-width="0.22" >250</text>
<text x="369.5" y="278.0" font-size="8.4" text-anchor="middle" fill="#111" stroke="#111" stroke-width="0.22" xml:space="preserve">t  (min)</text>
<text transform="translate(249.4,130.0) rotate(-90)" font-size="8.8" text-anchor="middle" fill="#111" stroke="#111" stroke-width="0.2" letter-spacing="0.35">S<tspan font-size="7.6" dy="1.6">c</tspan><tspan dy="-1.6"> / S</tspan><tspan font-size="7.6" dy="1.6" font-style="italic">F</tspan></text>
<polyline points="266.80,230.21 269.90,225.20 274.08,218.44 278.26,213.04 282.43,208.52 286.61,205.08 290.79,203.52 294.97,203.81 299.15,205.05 303.32,206.76 307.50,209.08 311.68,211.90 315.86,214.73 320.04,216.98 324.21,218.67 328.39,220.29 332.57,221.92 336.75,223.34 340.93,224.86 345.10,226.87 349.28,229.13 353.46,231.20 357.64,233.00 361.82,234.61 365.99,236.17 370.17,237.83 374.35,239.56 378.53,241.23 382.71,242.74 386.88,243.91 391.06,244.70 395.24,245.32 399.42,245.90 403.60,246.30 407.77,246.46 411.95,246.52 416.13,246.59 420.31,246.71 424.49,246.86 428.66,246.99 432.84,247.10 437.02,247.19 441.20,247.26 445.38,247.29 449.55,247.30 453.73,247.31 457.91,247.33 462.09,247.37 466.27,247.40 470.44,247.43 474.62,247.49" fill="none" stroke="#ec3a2e" stroke-width="1.25" stroke-linejoin="round" stroke-linecap="round" opacity="1"/>
<polyline points="266.80,210.71 269.90,208.58 274.08,205.72 278.26,201.84 282.43,197.22 286.61,192.38 290.79,187.78 294.97,184.18 299.15,182.75 303.32,184.07 307.50,187.53 311.68,192.09 315.86,196.91 320.04,201.27 324.21,204.70 328.39,207.16 332.57,208.88 336.75,210.20 340.93,211.63 345.10,213.29 349.28,214.79 353.46,216.31 357.64,218.25 361.82,220.44 365.99,222.79 370.17,225.17 374.35,227.42 378.53,229.50 382.71,231.41 386.88,233.09 391.06,234.50 395.24,235.72 399.42,236.69 403.60,237.21 407.77,237.38 411.95,237.48 416.13,237.70 420.31,238.07 424.49,238.53 428.66,239.08 432.84,239.74 437.02,240.33 441.20,240.72 445.38,241.12 449.55,241.66 453.73,242.21 457.91,242.64 462.09,242.96 466.27,243.25 470.44,243.57 474.62,243.94" fill="none" stroke="#243681" stroke-width="1.25" stroke-linejoin="round" stroke-linecap="round" opacity="1"/>
<polyline points="266.80,200.25 269.90,196.74 274.08,192.00 278.26,187.37 282.43,182.47 286.61,176.94 290.79,171.58 294.97,167.71 299.15,165.98 303.32,167.03 307.50,171.23 311.68,177.26 315.86,183.06 320.04,187.68 324.21,191.11 328.39,193.85 332.57,196.26 336.75,198.38 340.93,200.40 345.10,202.58 349.28,204.91 353.46,207.30 357.64,209.72 361.82,212.20 365.99,214.90 370.17,217.93 374.35,221.15 378.53,224.31 382.71,227.10 386.88,229.07 391.06,230.22 395.24,231.04 399.42,231.98 403.60,233.01 407.77,233.79 411.95,234.31 416.13,234.91 420.31,235.51 424.49,235.97 428.66,236.42 432.84,236.95 437.02,237.59 441.20,238.25 445.38,238.82 449.55,239.34 453.73,239.86 457.91,240.35 462.09,240.71 466.27,240.98 470.44,241.36 474.62,242.05" fill="none" stroke="#1e968e" stroke-width="1.25" stroke-linejoin="round" stroke-linecap="round" opacity="1"/>
<polyline points="266.80,180.38 269.90,177.12 274.08,172.73 278.26,167.66 282.43,162.23 286.61,155.79 290.79,148.78 294.97,143.39 299.15,140.96 303.32,141.44 307.50,144.40 311.68,148.80 315.86,153.26 320.04,156.77 324.21,159.27 328.39,161.67 332.57,164.63 336.75,168.25 340.93,173.08 345.10,179.25 349.28,185.71 353.46,191.81 357.64,197.49 361.82,202.57 365.99,207.17 370.17,211.98 374.35,216.84 378.53,220.95 382.71,224.33 386.88,227.16 391.06,229.06 395.24,230.09 399.42,230.78 403.60,231.34 407.77,231.59 411.95,231.53 416.13,231.59 420.31,231.99 424.49,232.69 428.66,233.51 432.84,234.18 437.02,234.67 441.20,235.16 445.38,235.75 449.55,236.35 453.73,236.92 457.91,237.45 462.09,237.87 466.27,238.17 470.44,238.39 474.62,238.54" fill="none" stroke="#3d88d0" stroke-width="1.25" stroke-linejoin="round" stroke-linecap="round" opacity="1"/>
<polyline points="266.80,116.47 269.90,114.47 274.08,111.78 278.26,109.10 282.43,106.99 286.61,105.80 290.79,105.18 294.97,104.11 299.15,102.26 303.32,100.42 307.50,99.73 311.68,100.98 315.86,104.33 320.04,108.76 324.21,113.14 328.39,117.62 332.57,122.55 336.75,127.89 340.93,134.07 345.10,140.78 349.28,146.78 353.46,151.85 357.64,157.17 361.82,163.66 365.99,170.86 370.17,178.39 374.35,186.37 378.53,193.87 382.71,200.39 386.88,206.20 391.06,210.99 395.24,214.54 399.42,216.97 403.60,218.41 407.77,219.12 411.95,219.41 416.13,219.63 420.31,220.24 424.49,221.50 428.66,223.19 432.84,225.02 437.02,226.63 441.20,228.00 445.38,229.49 449.55,231.09 453.73,232.61 457.91,234.02 462.09,235.11 466.27,235.72 470.44,236.00 474.62,236.20" fill="none" stroke="#5a4aa8" stroke-width="1.25" stroke-linejoin="round" stroke-linecap="round" opacity="1"/>
<circle cx="269.90" cy="225.90" r="2.2" fill="#ec3a2e"/>
<circle cx="274.08" cy="216.70" r="2.2" fill="#ec3a2e"/>
<circle cx="278.26" cy="212.70" r="2.2" fill="#ec3a2e"/>
<circle cx="282.43" cy="208.70" r="2.2" fill="#ec3a2e"/>
<circle cx="286.61" cy="202.70" r="2.2" fill="#ec3a2e"/>
<circle cx="290.79" cy="201.90" r="2.2" fill="#ec3a2e"/>
<circle cx="294.97" cy="203.30" r="2.2" fill="#ec3a2e"/>
<circle cx="299.15" cy="205.50" r="2.2" fill="#ec3a2e"/>
<circle cx="303.32" cy="205.50" r="2.2" fill="#ec3a2e"/>
<circle cx="307.50" cy="209.10" r="2.2" fill="#ec3a2e"/>
<circle cx="311.68" cy="211.40" r="2.2" fill="#ec3a2e"/>
<circle cx="315.86" cy="215.60" r="2.2" fill="#ec3a2e"/>
<circle cx="320.04" cy="217.80" r="2.2" fill="#ec3a2e"/>
<circle cx="324.21" cy="218.30" r="2.2" fill="#ec3a2e"/>
<circle cx="328.39" cy="219.90" r="2.2" fill="#ec3a2e"/>
<circle cx="332.57" cy="222.70" r="2.2" fill="#ec3a2e"/>
<circle cx="336.75" cy="223.40" r="2.2" fill="#ec3a2e"/>
<circle cx="340.93" cy="223.80" r="2.2" fill="#ec3a2e"/>
<circle cx="345.10" cy="226.80" r="2.2" fill="#ec3a2e"/>
<circle cx="349.28" cy="229.60" r="2.2" fill="#ec3a2e"/>
<circle cx="353.46" cy="231.20" r="2.2" fill="#ec3a2e"/>
<circle cx="357.64" cy="233.30" r="2.2" fill="#ec3a2e"/>
<circle cx="361.82" cy="234.60" r="2.2" fill="#ec3a2e"/>
<circle cx="365.99" cy="236.10" r="2.2" fill="#ec3a2e"/>
<circle cx="370.17" cy="237.50" r="2.2" fill="#ec3a2e"/>
<circle cx="374.35" cy="240.00" r="2.2" fill="#ec3a2e"/>
<circle cx="378.53" cy="241.00" r="2.2" fill="#ec3a2e"/>
<circle cx="382.71" cy="243.10" r="2.2" fill="#ec3a2e"/>
<circle cx="386.88" cy="244.40" r="2.2" fill="#ec3a2e"/>
<circle cx="391.06" cy="244.80" r="2.2" fill="#ec3a2e"/>
<circle cx="395.24" cy="245.00" r="2.2" fill="#ec3a2e"/>
<circle cx="399.42" cy="246.30" r="2.2" fill="#ec3a2e"/>
<circle cx="403.60" cy="246.50" r="2.2" fill="#ec3a2e"/>
<circle cx="407.77" cy="246.50" r="2.2" fill="#ec3a2e"/>
<circle cx="411.95" cy="246.50" r="2.2" fill="#ec3a2e"/>
<circle cx="416.13" cy="246.50" r="2.2" fill="#ec3a2e"/>
<circle cx="420.31" cy="246.70" r="2.2" fill="#ec3a2e"/>
<circle cx="424.49" cy="246.90" r="2.2" fill="#ec3a2e"/>
<circle cx="428.66" cy="247.00" r="2.2" fill="#ec3a2e"/>
<circle cx="432.84" cy="247.10" r="2.2" fill="#ec3a2e"/>
<circle cx="437.02" cy="247.20" r="2.2" fill="#ec3a2e"/>
<circle cx="441.20" cy="247.30" r="2.2" fill="#ec3a2e"/>
<circle cx="445.38" cy="247.30" r="2.2" fill="#ec3a2e"/>
<circle cx="449.55" cy="247.30" r="2.2" fill="#ec3a2e"/>
<circle cx="453.73" cy="247.30" r="2.2" fill="#ec3a2e"/>
<circle cx="457.91" cy="247.30" r="2.2" fill="#ec3a2e"/>
<circle cx="462.09" cy="247.40" r="2.2" fill="#ec3a2e"/>
<circle cx="466.27" cy="247.40" r="2.2" fill="#ec3a2e"/>
<circle cx="470.44" cy="247.40" r="2.2" fill="#ec3a2e"/>
<circle cx="474.62" cy="247.50" r="2.2" fill="#ec3a2e"/>
<circle cx="269.90" cy="208.20" r="2.2" fill="#243681"/>
<circle cx="274.08" cy="206.60" r="2.2" fill="#243681"/>
<circle cx="278.26" cy="202.70" r="2.2" fill="#243681"/>
<circle cx="282.43" cy="197.10" r="2.2" fill="#243681"/>
<circle cx="286.61" cy="192.20" r="2.2" fill="#243681"/>
<circle cx="290.79" cy="187.70" r="2.2" fill="#243681"/>
<circle cx="294.97" cy="182.20" r="2.2" fill="#243681"/>
<circle cx="299.15" cy="180.10" r="2.2" fill="#243681"/>
<circle cx="303.32" cy="182.50" r="2.2" fill="#243681"/>
<circle cx="307.50" cy="187.00" r="2.2" fill="#243681"/>
<circle cx="311.68" cy="191.80" r="2.2" fill="#243681"/>
<circle cx="315.86" cy="197.30" r="2.2" fill="#243681"/>
<circle cx="320.04" cy="202.20" r="2.2" fill="#243681"/>
<circle cx="324.21" cy="205.50" r="2.2" fill="#243681"/>
<circle cx="328.39" cy="207.50" r="2.2" fill="#243681"/>
<circle cx="332.57" cy="209.50" r="2.2" fill="#243681"/>
<circle cx="336.75" cy="210.10" r="2.2" fill="#243681"/>
<circle cx="340.93" cy="210.60" r="2.2" fill="#243681"/>
<circle cx="345.10" cy="214.10" r="2.2" fill="#243681"/>
<circle cx="349.28" cy="215.40" r="2.2" fill="#243681"/>
<circle cx="353.46" cy="214.40" r="2.2" fill="#243681"/>
<circle cx="357.64" cy="219.60" r="2.2" fill="#243681"/>
<circle cx="361.82" cy="219.20" r="2.2" fill="#243681"/>
<circle cx="365.99" cy="223.40" r="2.2" fill="#243681"/>
<circle cx="370.17" cy="225.00" r="2.2" fill="#243681"/>
<circle cx="374.35" cy="227.70" r="2.2" fill="#243681"/>
<circle cx="378.53" cy="229.60" r="2.2" fill="#243681"/>
<circle cx="382.71" cy="231.40" r="2.2" fill="#243681"/>
<circle cx="386.88" cy="233.60" r="2.2" fill="#243681"/>
<circle cx="391.06" cy="234.50" r="2.2" fill="#243681"/>
<circle cx="395.24" cy="235.60" r="2.2" fill="#243681"/>
<circle cx="399.42" cy="237.50" r="2.2" fill="#243681"/>
<circle cx="403.60" cy="237.30" r="2.2" fill="#243681"/>
<circle cx="407.77" cy="237.50" r="2.2" fill="#243681"/>
<circle cx="411.95" cy="237.30" r="2.2" fill="#243681"/>
<circle cx="416.13" cy="237.50" r="2.2" fill="#243681"/>
<circle cx="420.31" cy="238.10" r="2.2" fill="#243681"/>
<circle cx="424.49" cy="238.50" r="2.2" fill="#243681"/>
<circle cx="428.66" cy="238.90" r="2.2" fill="#243681"/>
<circle cx="432.84" cy="239.60" r="2.2" fill="#243681"/>
<circle cx="437.02" cy="241.00" r="2.2" fill="#243681"/>
<circle cx="441.20" cy="240.40" r="2.2" fill="#243681"/>
<circle cx="445.38" cy="241.00" r="2.2" fill="#243681"/>
<circle cx="449.55" cy="241.60" r="2.2" fill="#243681"/>
<circle cx="453.73" cy="242.40" r="2.2" fill="#243681"/>
<circle cx="457.91" cy="242.80" r="2.2" fill="#243681"/>
<circle cx="462.09" cy="242.80" r="2.2" fill="#243681"/>
<circle cx="466.27" cy="243.40" r="2.2" fill="#243681"/>
<circle cx="470.44" cy="243.40" r="2.2" fill="#243681"/>
<circle cx="474.62" cy="244.00" r="2.2" fill="#243681"/>
<circle cx="269.90" cy="196.70" r="2.2" fill="#1e968e"/>
<circle cx="274.08" cy="192.20" r="2.2" fill="#1e968e"/>
<circle cx="278.26" cy="186.50" r="2.2" fill="#1e968e"/>
<circle cx="282.43" cy="184.40" r="2.2" fill="#1e968e"/>
<circle cx="286.61" cy="176.90" r="2.2" fill="#1e968e"/>
<circle cx="290.79" cy="169.70" r="2.2" fill="#1e968e"/>
<circle cx="294.97" cy="166.30" r="2.2" fill="#1e968e"/>
<circle cx="299.15" cy="164.70" r="2.2" fill="#1e968e"/>
<circle cx="303.32" cy="163.30" r="2.2" fill="#1e968e"/>
<circle cx="307.50" cy="169.30" r="2.2" fill="#1e968e"/>
<circle cx="311.68" cy="179.00" r="2.2" fill="#1e968e"/>
<circle cx="315.86" cy="183.30" r="2.2" fill="#1e968e"/>
<circle cx="320.04" cy="189.30" r="2.2" fill="#1e968e"/>
<circle cx="324.21" cy="191.40" r="2.2" fill="#1e968e"/>
<circle cx="328.39" cy="193.50" r="2.2" fill="#1e968e"/>
<circle cx="332.57" cy="197.20" r="2.2" fill="#1e968e"/>
<circle cx="336.75" cy="198.00" r="2.2" fill="#1e968e"/>
<circle cx="340.93" cy="200.50" r="2.2" fill="#1e968e"/>
<circle cx="345.10" cy="202.10" r="2.2" fill="#1e968e"/>
<circle cx="349.28" cy="205.30" r="2.2" fill="#1e968e"/>
<circle cx="353.46" cy="206.90" r="2.2" fill="#1e968e"/>
<circle cx="357.64" cy="210.10" r="2.2" fill="#1e968e"/>
<circle cx="361.82" cy="211.70" r="2.2" fill="#1e968e"/>
<circle cx="365.99" cy="214.90" r="2.2" fill="#1e968e"/>
<circle cx="370.17" cy="217.30" r="2.2" fill="#1e968e"/>
<circle cx="374.35" cy="221.80" r="2.2" fill="#1e968e"/>
<circle cx="378.53" cy="223.80" r="2.2" fill="#1e968e"/>
<circle cx="382.71" cy="228.30" r="2.2" fill="#1e968e"/>
<circle cx="386.88" cy="229.90" r="2.2" fill="#1e968e"/>
<circle cx="391.06" cy="230.20" r="2.2" fill="#1e968e"/>
<circle cx="395.24" cy="231.00" r="2.2" fill="#1e968e"/>
<circle cx="399.42" cy="231.50" r="2.2" fill="#1e968e"/>
<circle cx="403.60" cy="233.40" r="2.2" fill="#1e968e"/>
<circle cx="407.77" cy="234.60" r="2.2" fill="#1e968e"/>
<circle cx="411.95" cy="233.40" r="2.2" fill="#1e968e"/>
<circle cx="416.13" cy="235.20" r="2.2" fill="#1e968e"/>
<circle cx="420.31" cy="235.80" r="2.2" fill="#1e968e"/>
<circle cx="424.49" cy="235.80" r="2.2" fill="#1e968e"/>
<circle cx="428.66" cy="236.40" r="2.2" fill="#1e968e"/>
<circle cx="432.84" cy="236.90" r="2.2" fill="#1e968e"/>
<circle cx="437.02" cy="237.30" r="2.2" fill="#1e968e"/>
<circle cx="441.20" cy="238.70" r="2.2" fill="#1e968e"/>
<circle cx="445.38" cy="238.70" r="2.2" fill="#1e968e"/>
<circle cx="449.55" cy="239.30" r="2.2" fill="#1e968e"/>
<circle cx="453.73" cy="239.90" r="2.2" fill="#1e968e"/>
<circle cx="457.91" cy="240.40" r="2.2" fill="#1e968e"/>
<circle cx="462.09" cy="241.00" r="2.2" fill="#1e968e"/>
<circle cx="466.27" cy="240.80" r="2.2" fill="#1e968e"/>
<circle cx="470.44" cy="241.00" r="2.2" fill="#1e968e"/>
<circle cx="474.62" cy="242.20" r="2.2" fill="#1e968e"/>
<circle cx="269.90" cy="176.40" r="2.2" fill="#3d88d0"/>
<circle cx="274.08" cy="174.80" r="2.2" fill="#3d88d0"/>
<circle cx="278.26" cy="165.70" r="2.2" fill="#3d88d0"/>
<circle cx="282.43" cy="164.10" r="2.2" fill="#3d88d0"/>
<circle cx="286.61" cy="157.70" r="2.2" fill="#3d88d0"/>
<circle cx="290.79" cy="146.60" r="2.2" fill="#3d88d0"/>
<circle cx="294.97" cy="140.10" r="2.2" fill="#3d88d0"/>
<circle cx="299.15" cy="140.10" r="2.2" fill="#3d88d0"/>
<circle cx="303.32" cy="138.30" r="2.2" fill="#3d88d0"/>
<circle cx="307.50" cy="143.90" r="2.2" fill="#3d88d0"/>
<circle cx="311.68" cy="148.50" r="2.2" fill="#3d88d0"/>
<circle cx="315.86" cy="154.40" r="2.2" fill="#3d88d0"/>
<circle cx="320.04" cy="158.10" r="2.2" fill="#3d88d0"/>
<circle cx="324.21" cy="159.30" r="2.2" fill="#3d88d0"/>
<circle cx="328.39" cy="160.20" r="2.2" fill="#3d88d0"/>
<circle cx="332.57" cy="165.20" r="2.2" fill="#3d88d0"/>
<circle cx="336.75" cy="167.50" r="2.2" fill="#3d88d0"/>
<circle cx="340.93" cy="170.30" r="2.2" fill="#3d88d0"/>
<circle cx="345.10" cy="180.40" r="2.2" fill="#3d88d0"/>
<circle cx="349.28" cy="185.90" r="2.2" fill="#3d88d0"/>
<circle cx="353.46" cy="192.00" r="2.2" fill="#3d88d0"/>
<circle cx="357.64" cy="197.60" r="2.2" fill="#3d88d0"/>
<circle cx="361.82" cy="204.10" r="2.2" fill="#3d88d0"/>
<circle cx="365.99" cy="206.10" r="2.2" fill="#3d88d0"/>
<circle cx="370.17" cy="211.20" r="2.2" fill="#3d88d0"/>
<circle cx="374.35" cy="218.60" r="2.2" fill="#3d88d0"/>
<circle cx="378.53" cy="221.40" r="2.2" fill="#3d88d0"/>
<circle cx="382.71" cy="223.80" r="2.2" fill="#3d88d0"/>
<circle cx="386.88" cy="228.60" r="2.2" fill="#3d88d0"/>
<circle cx="391.06" cy="229.90" r="2.2" fill="#3d88d0"/>
<circle cx="395.24" cy="229.90" r="2.2" fill="#3d88d0"/>
<circle cx="399.42" cy="231.00" r="2.2" fill="#3d88d0"/>
<circle cx="403.60" cy="231.10" r="2.2" fill="#3d88d0"/>
<circle cx="407.77" cy="232.90" r="2.2" fill="#3d88d0"/>
<circle cx="411.95" cy="230.50" r="2.2" fill="#3d88d0"/>
<circle cx="416.13" cy="231.70" r="2.2" fill="#3d88d0"/>
<circle cx="420.31" cy="231.70" r="2.2" fill="#3d88d0"/>
<circle cx="424.49" cy="232.30" r="2.2" fill="#3d88d0"/>
<circle cx="428.66" cy="234.00" r="2.2" fill="#3d88d0"/>
<circle cx="432.84" cy="234.30" r="2.2" fill="#3d88d0"/>
<circle cx="437.02" cy="234.60" r="2.2" fill="#3d88d0"/>
<circle cx="441.20" cy="235.00" r="2.2" fill="#3d88d0"/>
<circle cx="445.38" cy="235.80" r="2.2" fill="#3d88d0"/>
<circle cx="449.55" cy="236.40" r="2.2" fill="#3d88d0"/>
<circle cx="453.73" cy="236.90" r="2.2" fill="#3d88d0"/>
<circle cx="457.91" cy="237.50" r="2.2" fill="#3d88d0"/>
<circle cx="462.09" cy="238.10" r="2.2" fill="#3d88d0"/>
<circle cx="466.27" cy="238.10" r="2.2" fill="#3d88d0"/>
<circle cx="470.44" cy="238.50" r="2.2" fill="#3d88d0"/>
<circle cx="474.62" cy="238.50" r="2.2" fill="#3d88d0"/>
<circle cx="269.90" cy="114.30" r="2.2" fill="#5444a4"/>
<circle cx="274.08" cy="112.30" r="2.2" fill="#5444a4"/>
<circle cx="278.26" cy="108.40" r="2.2" fill="#5444a4"/>
<circle cx="282.43" cy="106.40" r="2.2" fill="#5444a4"/>
<circle cx="286.61" cy="104.40" r="2.2" fill="#5444a4"/>
<circle cx="290.79" cy="106.40" r="2.2" fill="#5444a4"/>
<circle cx="294.97" cy="104.80" r="2.2" fill="#5444a4"/>
<circle cx="299.15" cy="102.90" r="2.2" fill="#5444a4"/>
<circle cx="303.32" cy="98.50" r="2.2" fill="#5444a4"/>
<circle cx="307.50" cy="99.30" r="2.2" fill="#5444a4"/>
<circle cx="311.68" cy="98.00" r="2.2" fill="#5444a4"/>
<circle cx="315.86" cy="103.70" r="2.2" fill="#5444a4"/>
<circle cx="320.04" cy="109.60" r="2.2" fill="#5444a4"/>
<circle cx="324.21" cy="113.70" r="2.2" fill="#5444a4"/>
<circle cx="328.39" cy="115.30" r="2.2" fill="#5444a4"/>
<circle cx="332.57" cy="124.60" r="2.2" fill="#5444a4"/>
<circle cx="336.75" cy="125.90" r="2.2" fill="#5444a4"/>
<circle cx="340.93" cy="133.00" r="2.2" fill="#5444a4"/>
<circle cx="345.10" cy="142.20" r="2.2" fill="#5444a4"/>
<circle cx="349.28" cy="148.10" r="2.2" fill="#5444a4"/>
<circle cx="353.46" cy="151.60" r="2.2" fill="#5444a4"/>
<circle cx="357.64" cy="155.50" r="2.2" fill="#5444a4"/>
<circle cx="361.82" cy="162.40" r="2.2" fill="#5444a4"/>
<circle cx="365.99" cy="173.40" r="2.2" fill="#5444a4"/>
<circle cx="370.17" cy="174.50" r="2.2" fill="#5444a4"/>
<circle cx="374.35" cy="188.80" r="2.2" fill="#5444a4"/>
<circle cx="378.53" cy="194.90" r="2.2" fill="#5444a4"/>
<circle cx="382.71" cy="199.60" r="2.2" fill="#5444a4"/>
<circle cx="386.88" cy="207.80" r="2.2" fill="#5444a4"/>
<circle cx="391.06" cy="211.80" r="2.2" fill="#5444a4"/>
<circle cx="395.24" cy="215.20" r="2.2" fill="#5444a4"/>
<circle cx="399.42" cy="217.90" r="2.2" fill="#5444a4"/>
<circle cx="403.60" cy="218.90" r="2.2" fill="#5444a4"/>
<circle cx="407.77" cy="219.30" r="2.2" fill="#5444a4"/>
<circle cx="411.95" cy="219.70" r="2.2" fill="#5444a4"/>
<circle cx="416.13" cy="219.30" r="2.2" fill="#5444a4"/>
<circle cx="420.31" cy="219.30" r="2.2" fill="#5444a4"/>
<circle cx="424.49" cy="221.50" r="2.2" fill="#5444a4"/>
<circle cx="428.66" cy="222.90" r="2.2" fill="#5444a4"/>
<circle cx="432.84" cy="225.10" r="2.2" fill="#5444a4"/>
<circle cx="437.02" cy="227.60" r="2.2" fill="#5444a4"/>
<circle cx="441.20" cy="227.10" r="2.2" fill="#5444a4"/>
<circle cx="445.38" cy="229.50" r="2.2" fill="#5444a4"/>
<circle cx="449.55" cy="231.50" r="2.2" fill="#5444a4"/>
<circle cx="453.73" cy="232.30" r="2.2" fill="#5444a4"/>
<circle cx="457.91" cy="234.30" r="2.2" fill="#5444a4"/>
<circle cx="462.09" cy="235.80" r="2.2" fill="#5444a4"/>
<circle cx="466.27" cy="235.80" r="2.2" fill="#5444a4"/>
<circle cx="470.44" cy="236.00" r="2.2" fill="#5444a4"/>
<circle cx="474.62" cy="236.20" r="2.2" fill="#5444a4"/>
<path d="M474.6,244V250M472.40000000000003,244H476.8M472.40000000000003,250H476.8" stroke="#ec3a2e" stroke-width="0.9" fill="none"/>
<path d="M474.6,238V248M472.40000000000003,238H476.8M472.40000000000003,248H476.8" stroke="#243681" stroke-width="0.9" fill="none"/>
<path d="M474.6,236V245M472.40000000000003,236H476.8M472.40000000000003,245H476.8" stroke="#1e968e" stroke-width="0.9" fill="none"/>
<path d="M474.6,234.5V242M472.40000000000003,234.5H476.8M472.40000000000003,242H476.8" stroke="#3d88d0" stroke-width="0.9" fill="none"/>
<path d="M474.6,233.3V241.2M472.40000000000003,233.3H476.8M472.40000000000003,241.2H476.8" stroke="#5444a4" stroke-width="0.9" fill="none"/>
<text x="272.4" y="27.0" font-family='"Liberation Serif", serif' font-style="italic" font-size="6.8" fill="#222">w<tspan font-size="8.6" dy="2.6">f</tspan></text>
<path d="M283.6,30.6H286.6M285.1,30.6V27.6" stroke="#666" stroke-width="0.8" fill="none"/>
<rect x="389.4" y="20.4" width="80.2" height="80.6" fill="#fff"/>
<rect x="389.4" y="20.4" width="80.20000000000005" height="80.6" fill="none" stroke="#5e5e5e" stroke-width="1.1"/>
<path d="M469.6,20.9V101" stroke="#9a9a9a" stroke-width="1.5"/>
<text x="387.2" y="104.45" font-size="8.2" text-anchor="end" fill="#111" stroke="#111" stroke-width="0.22" >0</text>
<text x="387.2" y="23.850000000000005" font-size="8.2" text-anchor="end" fill="#111" stroke="#111" stroke-width="0.22" >2</text>
<path d="M392.6,101.0V99.0" stroke="#5e5e5e" stroke-width="0.9"/>
<text x="392.6" y="109.6" font-size="8.2" text-anchor="middle" fill="#111" stroke="#111" stroke-width="0.22" >0</text>
<path d="M425.35,101.0V99.0" stroke="#5e5e5e" stroke-width="0.9"/>
<text x="425.35" y="109.6" font-size="8.2" text-anchor="middle" fill="#111" stroke="#111" stroke-width="0.22" >100</text>
<path d="M458.1,101.0V99.0" stroke="#5e5e5e" stroke-width="0.9"/>
<text x="458.1" y="109.6" font-size="8.2" text-anchor="middle" fill="#111" stroke="#111" stroke-width="0.22" >200</text>
<text transform="translate(382.2,64.6) rotate(-90)" font-size="8.6" text-anchor="middle" fill="#111" stroke="#111" stroke-width="0.2">S<tspan font-size="7.4" dy="1.8">c</tspan><tspan dy="-1.8"> (%)</tspan></text>
<polyline points="392.30,96.40 392.64,96.02 393.09,95.51 393.62,94.90 394.22,94.22 394.84,93.51 395.47,92.80 396.06,92.12 396.60,91.50 397.09,90.91 397.57,90.31 398.04,89.71 398.49,89.12 398.95,88.57 399.40,88.05 399.85,87.59 400.30,87.20 400.75,86.88 401.20,86.63 401.65,86.42 402.10,86.26 402.55,86.14 403.00,86.04 403.45,85.97 403.90,85.90 404.35,85.84 404.79,85.80 405.23,85.79 405.67,85.79 406.12,85.83 406.59,85.91 407.08,86.03 407.60,86.20 408.15,86.44 408.71,86.74 409.29,87.10 409.89,87.49 410.51,87.89 411.16,88.29 411.82,88.67 412.50,89.00 413.21,89.30 413.96,89.59 414.73,89.86 415.52,90.12 416.33,90.38 417.13,90.63 417.92,90.87 418.70,91.10 419.47,91.33 420.23,91.55 420.99,91.77 421.76,91.98 422.52,92.18 423.28,92.37 424.04,92.54 424.80,92.70 425.56,92.84 426.32,92.96 427.09,93.06 427.85,93.15 428.61,93.24 429.38,93.32 430.14,93.41 430.90,93.50 431.66,93.60 432.42,93.69 433.18,93.78 433.94,93.88 434.71,93.97 435.47,94.07 436.23,94.18 437.00,94.30 437.77,94.44 438.55,94.59 439.32,94.75 440.10,94.92 440.88,95.08 441.65,95.24 442.43,95.38 443.20,95.50 443.97,95.60 444.73,95.69 445.49,95.76 446.26,95.83 447.02,95.88 447.78,95.93 448.54,95.97 449.30,96.00 450.06,96.02 450.82,96.03 451.58,96.02 452.34,96.01 453.11,95.99 453.87,95.98 454.63,95.98 455.40,96.00 456.16,96.03 456.92,96.07 457.67,96.13 458.42,96.18 459.19,96.24 459.97,96.30 460.77,96.35 461.60,96.40 462.51,96.44 463.52,96.49 464.58,96.53 465.64,96.58 466.65,96.61 467.56,96.65 468.33,96.68 468.90,96.70" fill="none" stroke="#ec3a2e" stroke-width="1.25" stroke-linejoin="round" stroke-linecap="round" opacity="1"/>
<polyline points="392.30,92.10 392.64,91.98 393.09,91.86 393.62,91.71 394.22,91.53 394.84,91.30 395.47,91.01 396.06,90.65 396.60,90.20 397.08,89.64 397.54,88.96 397.98,88.21 398.41,87.39 398.85,86.55 399.30,85.70 399.78,84.88 400.30,84.10 400.86,83.31 401.47,82.44 402.11,81.56 402.76,80.69 403.40,79.88 404.04,79.19 404.64,78.64 405.20,78.30 405.71,78.17 406.19,78.23 406.64,78.44 407.07,78.76 407.50,79.15 407.92,79.58 408.35,80.01 408.80,80.40 409.26,80.79 409.72,81.23 410.18,81.71 410.64,82.21 411.11,82.71 411.57,83.20 412.04,83.67 412.50,84.10 412.96,84.50 413.43,84.90 413.89,85.29 414.35,85.66 414.81,86.01 415.27,86.33 415.74,86.63 416.20,86.90 416.65,87.13 417.10,87.33 417.53,87.51 417.97,87.66 418.42,87.79 418.89,87.90 419.38,88.00 419.90,88.10 420.45,88.18 421.01,88.25 421.60,88.29 422.20,88.32 422.82,88.35 423.46,88.37 424.12,88.38 424.80,88.40 425.51,88.42 426.24,88.44 427.00,88.45 427.78,88.46 428.56,88.46 429.35,88.45 430.13,88.43 430.90,88.40 431.66,88.36 432.42,88.30 433.18,88.23 433.94,88.16 434.71,88.07 435.47,87.99 436.23,87.89 437.00,87.80 437.77,87.70 438.55,87.58 439.32,87.46 440.10,87.33 440.88,87.21 441.65,87.09 442.43,86.99 443.20,86.90 443.97,86.84 444.73,86.79 445.49,86.76 446.26,86.74 447.02,86.72 447.78,86.69 448.54,86.65 449.30,86.60 450.06,86.53 450.82,86.44 451.58,86.34 452.34,86.24 453.11,86.14 453.87,86.05 454.63,85.97 455.40,85.90 456.16,85.86 456.92,85.83 457.67,85.82 458.42,85.82 459.19,85.81 459.97,85.79 460.77,85.76 461.60,85.70 462.51,85.61 463.52,85.48 464.58,85.34 465.64,85.19 466.65,85.04 467.56,84.90 468.33,84.78 468.90,84.70" fill="none" stroke="#243681" stroke-width="1.25" stroke-linejoin="round" stroke-linecap="round" opacity="1"/>
<polyline points="392.30,88.40 392.64,88.23 393.09,88.04 393.62,87.80 394.22,87.53 394.84,87.21 395.47,86.84 396.06,86.40 396.60,85.90 397.08,85.31 397.54,84.63 397.98,83.87 398.41,83.07 398.85,82.24 399.30,81.40 399.78,80.58 400.30,79.80 400.86,79.00 401.47,78.13 402.11,77.23 402.76,76.35 403.40,75.53 404.04,74.80 404.64,74.21 405.20,73.80 405.71,73.58 406.19,73.50 406.64,73.55 407.07,73.71 407.50,73.94 407.92,74.23 408.35,74.56 408.80,74.90 409.26,75.29 409.72,75.78 410.18,76.33 410.64,76.92 411.11,77.53 411.57,78.13 412.04,78.70 412.50,79.20 412.96,79.66 413.43,80.10 413.89,80.53 414.35,80.93 414.81,81.31 415.27,81.67 415.74,82.00 416.20,82.30 416.65,82.56 417.10,82.78 417.53,82.98 417.97,83.14 418.42,83.29 418.89,83.43 419.38,83.57 419.90,83.70 420.45,83.83 421.01,83.95 421.60,84.06 422.20,84.16 422.82,84.25 423.46,84.34 424.12,84.42 424.80,84.50 425.51,84.59 426.24,84.68 427.00,84.77 427.78,84.86 428.56,84.93 429.35,84.98 430.13,85.01 430.90,85.00 431.66,84.95 432.42,84.86 433.18,84.74 433.94,84.61 434.71,84.46 435.47,84.32 436.23,84.20 437.00,84.10 437.77,84.02 438.55,83.96 439.32,83.90 440.10,83.84 440.88,83.80 441.65,83.76 442.43,83.73 443.20,83.70 443.97,83.69 444.73,83.69 445.49,83.71 446.26,83.73 447.02,83.74 447.78,83.75 448.54,83.74 449.30,83.70 450.06,83.64 450.82,83.55 451.58,83.45 452.34,83.34 453.11,83.22 453.87,83.10 454.63,83.00 455.40,82.90 456.16,82.82 456.92,82.74 457.67,82.66 458.42,82.59 459.19,82.52 459.97,82.45 460.77,82.38 461.60,82.30 462.51,82.21 463.52,82.12 464.58,82.01 465.64,81.91 466.65,81.82 467.56,81.73 468.33,81.65 468.90,81.60" fill="none" stroke="#1e968e" stroke-width="1.25" stroke-linejoin="round" stroke-linecap="round" opacity="1"/>
<polyline points="392.30,84.70 392.64,84.49 393.09,84.23 393.62,83.92 394.22,83.57 394.84,83.16 395.47,82.70 396.06,82.18 396.60,81.60 397.10,80.91 397.60,80.10 398.09,79.21 398.57,78.27 399.03,77.33 399.48,76.43 399.90,75.60 400.30,74.90 400.66,74.32 400.98,73.82 401.26,73.39 401.54,73.00 401.81,72.64 402.08,72.28 402.38,71.91 402.70,71.50 403.05,71.04 403.41,70.53 403.78,70.00 404.17,69.47 404.56,68.99 404.97,68.56 405.38,68.22 405.80,68.00 406.23,67.90 406.67,67.91 407.12,67.99 407.57,68.14 408.04,68.34 408.52,68.56 409.00,68.79 409.50,69.00 410.00,69.21 410.52,69.44 411.04,69.70 411.57,69.97 412.12,70.26 412.67,70.56 413.23,70.87 413.80,71.20 414.38,71.54 414.95,71.91 415.54,72.30 416.14,72.69 416.75,73.10 417.38,73.50 418.03,73.91 418.70,74.30 419.41,74.69 420.14,75.08 420.90,75.47 421.68,75.86 422.46,76.24 423.25,76.63 424.03,77.02 424.80,77.40 425.56,77.79 426.32,78.18 427.09,78.58 427.85,78.98 428.61,79.36 429.38,79.73 430.14,80.08 430.90,80.40 431.66,80.70 432.42,81.00 433.18,81.28 433.94,81.54 434.71,81.78 435.47,81.98 436.23,82.16 437.00,82.30 437.77,82.40 438.55,82.46 439.32,82.50 440.10,82.50 440.88,82.48 441.65,82.44 442.43,82.38 443.20,82.30 443.97,82.20 444.73,82.07 445.49,81.91 446.26,81.74 447.02,81.55 447.78,81.36 448.54,81.18 449.30,81.00 450.06,80.83 450.82,80.67 451.58,80.51 452.34,80.34 453.11,80.17 453.87,79.99 454.63,79.80 455.40,79.60 456.16,79.37 456.92,79.12 457.67,78.86 458.42,78.59 459.19,78.32 459.97,78.06 460.77,77.82 461.60,77.60 462.51,77.40 463.52,77.22 464.58,77.04 465.64,76.88 466.65,76.73 467.56,76.60 468.33,76.49 468.90,76.40" fill="none" stroke="#3d88d0" stroke-width="1.25" stroke-linejoin="round" stroke-linecap="round" opacity="1"/>
<polyline points="392.90,73.10 393.19,72.48 393.56,71.65 394.02,70.67 394.52,69.58 395.05,68.43 395.59,67.28 396.11,66.19 396.60,65.20 397.06,64.27 397.53,63.33 397.99,62.39 398.46,61.48 398.92,60.61 399.38,59.79 399.84,59.05 400.30,58.40 400.75,57.85 401.20,57.39 401.65,57.00 402.10,56.67 402.55,56.38 403.00,56.11 403.45,55.86 403.90,55.60 404.36,55.34 404.83,55.09 405.31,54.86 405.78,54.66 406.25,54.47 406.71,54.32 407.17,54.19 407.60,54.10 408.02,54.04 408.42,54.00 408.81,54.00 409.19,54.02 409.56,54.07 409.94,54.15 410.32,54.26 410.70,54.40 411.08,54.57 411.46,54.78 411.84,55.02 412.22,55.29 412.60,55.58 412.99,55.90 413.39,56.24 413.80,56.60 414.22,57.00 414.63,57.44 415.06,57.91 415.49,58.40 415.93,58.90 416.40,59.39 416.88,59.86 417.40,60.30 417.94,60.72 418.50,61.13 419.09,61.54 419.69,61.93 420.31,62.31 420.95,62.66 421.62,63.00 422.30,63.30 423.00,63.57 423.70,63.80 424.43,64.01 425.18,64.19 425.95,64.37 426.76,64.54 427.61,64.71 428.50,64.90 429.48,65.09 430.55,65.28 431.67,65.46 432.82,65.64 433.97,65.82 435.07,66.01 436.09,66.20 437.00,66.40 437.80,66.61 438.53,66.84 439.19,67.08 439.81,67.31 440.38,67.55 440.93,67.78 441.47,68.00 442.00,68.20 442.51,68.41 442.97,68.64 443.40,68.86 443.81,69.08 444.22,69.27 444.64,69.41 445.10,69.49 445.60,69.50 446.14,69.40 446.70,69.21 447.29,68.95 447.89,68.64 448.51,68.33 449.15,68.03 449.82,67.78 450.50,67.60 451.21,67.48 451.96,67.38 452.73,67.30 453.52,67.25 454.33,67.23 455.13,67.25 455.92,67.30 456.70,67.40 457.47,67.55 458.23,67.77 458.99,68.02 459.76,68.31 460.52,68.62 461.28,68.93 462.04,69.23 462.80,69.50 463.60,69.77 464.47,70.05 465.36,70.35 466.23,70.63 467.06,70.90 467.80,71.14 468.43,71.35 468.90,71.50" fill="none" stroke="#5a4aa8" stroke-width="1.25" stroke-linejoin="round" stroke-linecap="round" opacity="1"/>
<path d="M469.4,67V73.8M467.59999999999997,67H471.2M467.59999999999997,73.8H471.2" stroke="#5444a4" stroke-width="0.9" fill="none"/>
<path d="M469.4,73.5V79.5M467.59999999999997,73.5H471.2M467.59999999999997,79.5H471.2" stroke="#3d88d0" stroke-width="0.9" fill="none"/>
<path d="M469.4,78.5V85M467.59999999999997,78.5H471.2M467.59999999999997,85H471.2" stroke="#1e968e" stroke-width="0.9" fill="none"/>
<path d="M469.4,81V89.6M467.59999999999997,81H471.2M467.59999999999997,89.6H471.2" stroke="#243681" stroke-width="0.9" fill="none"/>
<path d="M469.4,92.7V100M467.59999999999997,92.7H471.2M467.59999999999997,100H471.2" stroke="#ec3a2e" stroke-width="0.9" fill="none"/>
<rect x="508.6" y="14.5" width="175.5" height="235.5" fill="none" stroke="#5e5e5e" stroke-width="1.2"/>
<path d="M508.6,241.6H511.0" stroke="#5e5e5e" stroke-width="0.9"/>
<text x="504.4" y="245.5" font-size="8.4" text-anchor="end" fill="#111" stroke="#111" stroke-width="0.22" >0</text>
<path d="M508.6,168.8H511.0" stroke="#5e5e5e" stroke-width="0.9"/>
<text x="504.4" y="172.82000000000002" font-size="8.4" text-anchor="end" fill="#111" stroke="#111" stroke-width="0.22" >0.4</text>
<path d="M508.6,96.6H511.0" stroke="#5e5e5e" stroke-width="0.9"/>
<text x="504.4" y="100.14000000000001" font-size="8.4" text-anchor="end" fill="#111" stroke="#111" stroke-width="0.22" >0.8</text>
<path d="M508.6,23.6H511.0" stroke="#5e5e5e" stroke-width="0.9"/>
<text x="504.4" y="27.46" font-size="8.4" text-anchor="end" fill="#111" stroke="#111" stroke-width="0.22" >1.2</text>
<path d="M536.0,250.0V247.6" stroke="#5e5e5e" stroke-width="0.9"/>
<text x="536.0" y="261.4" font-size="8.4" text-anchor="middle" fill="#111" stroke="#111" stroke-width="0.22" >1</text>
<path d="M596.0,250.0V247.6" stroke="#5e5e5e" stroke-width="0.9"/>
<text x="596.0" y="261.4" font-size="8.4" text-anchor="middle" fill="#111" stroke="#111" stroke-width="0.22" >10</text>
<path d="M656.0,250.0V247.6" stroke="#5e5e5e" stroke-width="0.9"/>
<text x="656.0" y="261.4" font-size="8.4" text-anchor="middle" fill="#111" stroke="#111" stroke-width="0.22" >100</text>
<text transform="translate(492.0,131.7) rotate(-90)" font-size="8.8" text-anchor="middle" fill="#111" stroke="#111" stroke-width="0.2" letter-spacing="0.35">S<tspan font-size="7.6" dy="1.6">c</tspan><tspan dy="-1.6"> / S</tspan><tspan font-size="7.6" dy="1.6" font-style="italic">F</tspan></text>
<text x="586.0" y="277.6" font-size="8.2" text-anchor="start" fill="#333" stroke="#333" stroke-width="0.1" ><tspan fill="#333">γ̇</tspan><tspan font-size="5.8" dy="1.4">F</tspan><tspan dy="-1.4"> (s</tspan><tspan font-size="4.8" dy="-3.1">-1</tspan><tspan dy="3.1">)</tspan></text>
<polyline points="512.00,76.10 514.13,77.82 516.94,80.09 520.27,82.78 524.00,85.79 527.98,89.00 532.06,92.32 536.12,95.62 540.00,98.80 543.87,101.99 547.93,105.35 552.10,108.81 556.31,112.32 560.48,115.80 564.54,119.18 568.40,122.40 572.00,125.40 575.33,128.18 578.48,130.80 581.46,133.28 584.31,135.66 587.06,137.96 589.74,140.20 592.38,142.40 595.00,144.60 597.57,146.78 600.05,148.92 602.46,151.01 604.81,153.06 607.12,155.04 609.41,156.96 611.70,158.82 614.00,160.60 616.30,162.28 618.57,163.86 620.82,165.36 623.06,166.81 625.29,168.22 627.52,169.62 629.76,171.04 632.00,172.50 634.30,174.02 636.69,175.59 639.10,177.17 641.50,178.75 643.84,180.29 646.06,181.76 648.13,183.14 650.00,184.40 651.64,185.50 653.08,186.47 654.36,187.33 655.54,188.14 656.65,188.92 657.73,189.71 658.83,190.56 660.00,191.50 661.22,192.53 662.43,193.59 663.65,194.70 664.85,195.83 666.03,196.97 667.19,198.12 668.32,199.27 669.40,200.40 670.44,201.52 671.44,202.64 672.41,203.76 673.35,204.88 674.27,206.01 675.18,207.16 676.09,208.32 677.00,209.50 677.95,210.78 678.96,212.17 679.98,213.62 680.98,215.07 681.91,216.44 682.76,217.68 683.46,218.72 684.00,219.50" fill="none" stroke="#a0a0a0" stroke-width="1.1" stroke-linejoin="round" stroke-linecap="round" opacity="1"/>
<polyline points="512.00,185.80 513.01,186.38 514.35,187.18 515.94,188.12 517.72,189.16 519.59,190.25 521.48,191.32 523.31,192.32 525.00,193.20 526.55,193.97 528.04,194.70 529.50,195.38 530.97,196.04 532.47,196.68 534.04,197.31 535.70,197.95 537.50,198.60 539.45,199.26 541.54,199.90 543.72,200.55 545.97,201.19 548.25,201.83 550.54,202.48 552.80,203.13 555.00,203.80 557.14,204.49 559.26,205.21 561.37,205.94 563.47,206.67 565.57,207.39 567.69,208.10 569.83,208.77 572.00,209.40 574.16,210.00 576.29,210.57 578.41,211.13 580.56,211.66 582.77,212.16 585.05,212.64 587.46,213.08 590.00,213.50 592.75,213.89 595.72,214.24 598.82,214.57 602.00,214.88 605.18,215.15 608.28,215.39 611.25,215.61 614.00,215.80 616.54,215.95 618.91,216.05 621.18,216.12 623.36,216.17 625.49,216.20 627.62,216.22 629.78,216.25 632.00,216.30 634.37,216.35 636.87,216.40 639.44,216.44 641.98,216.48 644.42,216.52 646.67,216.57 648.66,216.63 650.30,216.70 651.53,216.78 652.42,216.86 653.04,216.95 653.47,217.05 653.80,217.16 654.11,217.29 654.48,217.43 655.00,217.60 655.63,217.79 656.27,217.99 656.93,218.21 657.59,218.44 658.26,218.70 658.92,218.98 659.57,219.28 660.20,219.60 660.82,219.95 661.44,220.31 662.05,220.70 662.65,221.11 663.25,221.55 663.84,222.00 664.42,222.49 665.00,223.00 665.55,223.53 666.08,224.09 666.58,224.67 667.09,225.28 667.61,225.91 668.15,226.57 668.75,227.27 669.40,228.00 670.11,228.78 670.87,229.60 671.67,230.46 672.50,231.34 673.36,232.25 674.23,233.17 675.11,234.09 676.00,235.00 676.95,235.96 678.01,237.02 679.11,238.11 680.21,239.19 681.26,240.21 682.21,241.14 683.01,241.92 683.60,242.50" fill="none" stroke="#a0a0a0" stroke-width="1.1" stroke-linejoin="round" stroke-linecap="round" opacity="1"/>
<path d="M512.12,61.2V90.4M509.32,61.2H514.92M509.32,90.4H514.92" stroke="#5444a4" stroke-width="1.0" fill="none"/>
<path d="M512.12,165.6V198M509.32,165.6H514.92M509.32,198H514.92" stroke="#5444a4" stroke-width="1.0" fill="none"/>
<circle cx="512.12" cy="76.1" r="2.55" fill="#5444a4"/>
<rect x="509.72" y="180.1" width="4.8" height="4.8" fill="#5444a4"/>
<path d="M572.12,111.2V139.5M569.32,111.2H574.92M569.32,139.5H574.92" stroke="#3d88d0" stroke-width="1.0" fill="none"/>
<path d="M572.12,194.5V225.5M569.32,194.5H574.92M569.32,225.5H574.92" stroke="#3d88d0" stroke-width="1.0" fill="none"/>
<circle cx="572.12" cy="125.4" r="2.55" fill="#3d88d0"/>
<rect x="569.72" y="207.1" width="4.8" height="4.8" fill="#3d88d0"/>
<path d="M614.06,148.4V173M611.26,148.4H616.8599999999999M611.26,173H616.8599999999999" stroke="#1e968e" stroke-width="1.0" fill="none"/>
<path d="M614.06,204.4V228.2M611.26,204.4H616.8599999999999M611.26,228.2H616.8599999999999" stroke="#1e968e" stroke-width="1.0" fill="none"/>
<circle cx="614.06" cy="160.6" r="2.55" fill="#1e968e"/>
<rect x="611.66" y="213.6" width="4.8" height="4.8" fill="#1e968e"/>
<path d="M650.19,172.4V195M647.3900000000001,172.4H652.99M647.3900000000001,195H652.99" stroke="#243681" stroke-width="1.0" fill="none"/>
<path d="M650.19,206.6V227.6M647.3900000000001,206.6H652.99M647.3900000000001,227.6H652.99" stroke="#243681" stroke-width="1.0" fill="none"/>
<circle cx="650.19" cy="184.3" r="2.55" fill="#243681"/>
<rect x="647.79" y="214.29999999999998" width="4.8" height="4.8" fill="#243681"/>
<path d="M674.06,197.5V217.2M671.26,197.5H676.8599999999999M671.26,217.2H676.8599999999999" stroke="#ec3a2e" stroke-width="1.0" fill="none"/>
<path d="M674.06,222.7V241.1M671.26,222.7H676.8599999999999M671.26,241.1H676.8599999999999" stroke="#ec3a2e" stroke-width="1.0" fill="none"/>
<circle cx="674.06" cy="207.3" r="2.55" fill="#ec3a2e"/>
<rect x="671.66" y="229.6" width="4.8" height="4.8" fill="#ec3a2e"/>
<text x="567.6" y="27.2" font-size="8.4" text-anchor="start" fill="#111" stroke="#111" stroke-width="0.22" >PA14<tspan font-family='"Liberation Serif", serif' stroke-width="0">Δ</tspan><tspan font-family='"Liberation Serif", serif' font-style="italic" stroke-width="0" font-size="8.8">pilB</tspan></text>
<circle cx="620.5" cy="24.3" r="3.3" fill="#000"/>
<text x="630.2" y="26.0" font-family='"Liberation Serif", serif' font-style="italic" font-size="7.6" fill="#222">w<tspan font-size="8.8" dy="4.0" dx="0.3">s</tspan></text>
<path d="M640.6,29.2H643.6M642.1,29.2V26.2" stroke="#666" stroke-width="0.8" fill="none"/>
<rect x="653.2" y="20.3" width="6.6" height="6.4" fill="#000"/>
<text x="665.4" y="26.0" font-family='"Liberation Serif", serif' font-style="italic" font-size="7.6" fill="#222">w<tspan font-size="8.4" dy="2.6">f</tspan></text>
<path d="M676.8,29.6H679.8M678.3,29.6V26.6" stroke="#666" stroke-width="0.8" fill="none"/>
</svg>
</div></body></html>
